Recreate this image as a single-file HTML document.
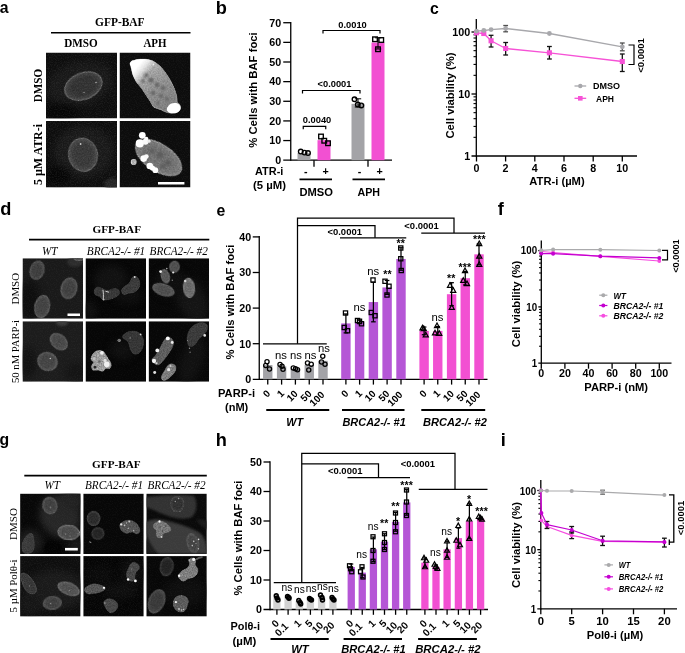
<!DOCTYPE html>
<html lang="en"><head><meta charset="utf-8"><title>Figure</title>
<style>
html,body{margin:0;padding:0;background:#fff;}
body{width:685px;height:653px;overflow:hidden;}
svg{display:block;}
</style></head><body>
<svg width="685" height="653" viewBox="0 0 685 653">
<rect x="0" y="0" width="685" height="653" fill="#ffffff"/>
<text x="-0.30" y="13.10" font-family='"Liberation Sans", Arial, sans-serif' font-size="15.8" font-weight="bold" font-style="normal" text-anchor="start" fill="#000">a</text>
<text x="215.80" y="13.75" font-family='"Liberation Sans", Arial, sans-serif' font-size="18.2" font-weight="bold" font-style="normal" text-anchor="start" fill="#000">b</text>
<text x="429.90" y="13.75" font-family='"Liberation Sans", Arial, sans-serif' font-size="15.8" font-weight="bold" font-style="normal" text-anchor="start" fill="#000">c</text>
<text x="0.20" y="215.40" font-family='"Liberation Sans", Arial, sans-serif' font-size="18.2" font-weight="bold" font-style="normal" text-anchor="start" fill="#000">d</text>
<text x="216.40" y="215.50" font-family='"Liberation Sans", Arial, sans-serif' font-size="15.8" font-weight="bold" font-style="normal" text-anchor="start" fill="#000">e</text>
<text x="497.70" y="215.20" font-family='"Liberation Sans", Arial, sans-serif' font-size="18.2" font-weight="bold" font-style="normal" text-anchor="start" fill="#000">f</text>
<text x="-0.50" y="444.50" font-family='"Liberation Sans", Arial, sans-serif' font-size="15.8" font-weight="bold" font-style="normal" text-anchor="start" fill="#000">g</text>
<text x="215.80" y="446.25" font-family='"Liberation Sans", Arial, sans-serif' font-size="18.2" font-weight="bold" font-style="normal" text-anchor="start" fill="#000">h</text>
<text x="500.80" y="446.25" font-family='"Liberation Sans", Arial, sans-serif' font-size="18.2" font-weight="bold" font-style="normal" text-anchor="start" fill="#000">i</text>
<line x1="290.75" y1="22.00" x2="290.75" y2="160.85" stroke="#000" stroke-width="1.3" stroke-linecap="butt"/>
<line x1="283.25" y1="160.20" x2="392.00" y2="160.20" stroke="#000" stroke-width="1.3" stroke-linecap="butt"/>
<text x="281.25" y="164.00" font-family='"Liberation Sans", Arial, sans-serif' font-size="10.7" font-weight="bold" font-style="normal" text-anchor="end" fill="#000">0</text>
<line x1="283.25" y1="140.56" x2="290.75" y2="140.56" stroke="#000" stroke-width="1.3" stroke-linecap="butt"/>
<text x="281.25" y="144.36" font-family='"Liberation Sans", Arial, sans-serif' font-size="10.7" font-weight="bold" font-style="normal" text-anchor="end" fill="#000">10</text>
<line x1="283.25" y1="120.92" x2="290.75" y2="120.92" stroke="#000" stroke-width="1.3" stroke-linecap="butt"/>
<text x="281.25" y="124.72" font-family='"Liberation Sans", Arial, sans-serif' font-size="10.7" font-weight="bold" font-style="normal" text-anchor="end" fill="#000">20</text>
<line x1="283.25" y1="101.28" x2="290.75" y2="101.28" stroke="#000" stroke-width="1.3" stroke-linecap="butt"/>
<text x="281.25" y="105.08" font-family='"Liberation Sans", Arial, sans-serif' font-size="10.7" font-weight="bold" font-style="normal" text-anchor="end" fill="#000">30</text>
<line x1="283.25" y1="81.64" x2="290.75" y2="81.64" stroke="#000" stroke-width="1.3" stroke-linecap="butt"/>
<text x="281.25" y="85.44" font-family='"Liberation Sans", Arial, sans-serif' font-size="10.7" font-weight="bold" font-style="normal" text-anchor="end" fill="#000">40</text>
<line x1="283.25" y1="62.00" x2="290.75" y2="62.00" stroke="#000" stroke-width="1.3" stroke-linecap="butt"/>
<text x="281.25" y="65.80" font-family='"Liberation Sans", Arial, sans-serif' font-size="10.7" font-weight="bold" font-style="normal" text-anchor="end" fill="#000">50</text>
<line x1="283.25" y1="42.36" x2="290.75" y2="42.36" stroke="#000" stroke-width="1.3" stroke-linecap="butt"/>
<text x="281.25" y="46.16" font-family='"Liberation Sans", Arial, sans-serif' font-size="10.7" font-weight="bold" font-style="normal" text-anchor="end" fill="#000">60</text>
<line x1="283.25" y1="22.72" x2="290.75" y2="22.72" stroke="#000" stroke-width="1.3" stroke-linecap="butt"/>
<text x="281.25" y="26.52" font-family='"Liberation Sans", Arial, sans-serif' font-size="10.7" font-weight="bold" font-style="normal" text-anchor="end" fill="#000">70</text>
<text x="257.00" y="90.00" font-family='"Liberation Sans", Arial, sans-serif' font-size="11.2" font-weight="bold" font-style="normal" text-anchor="middle" fill="#000" transform="rotate(-90 257.00 90.00)" textLength="115.50" lengthAdjust="spacingAndGlyphs">% Cells with BAF foci</text>
<rect x="297.50" y="153.13" width="13.00" height="7.07" fill="#a3a3a7"/>
<rect x="317.50" y="140.17" width="13.00" height="20.03" fill="#f250d2"/>
<rect x="351.50" y="103.83" width="13.00" height="56.37" fill="#a3a3a7"/>
<rect x="371.50" y="42.56" width="13.00" height="117.64" fill="#f250d2"/>
<line x1="358.00" y1="98.80" x2="358.00" y2="107.00" stroke="#000" stroke-width="1.0" stroke-linecap="butt"/>
<line x1="354.80" y1="98.80" x2="361.20" y2="98.80" stroke="#000" stroke-width="1.0" stroke-linecap="butt"/>
<line x1="354.80" y1="107.00" x2="361.20" y2="107.00" stroke="#000" stroke-width="1.0" stroke-linecap="butt"/>
<line x1="378.00" y1="37.80" x2="378.00" y2="49.00" stroke="#000" stroke-width="1.0" stroke-linecap="butt"/>
<line x1="374.80" y1="37.80" x2="381.20" y2="37.80" stroke="#000" stroke-width="1.0" stroke-linecap="butt"/>
<line x1="374.80" y1="49.00" x2="381.20" y2="49.00" stroke="#000" stroke-width="1.0" stroke-linecap="butt"/>
<circle cx="300.75" cy="151.50" r="2.3" fill="none" stroke="#000" stroke-width="1.35"/>
<circle cx="304.50" cy="152.60" r="2.3" fill="none" stroke="#000" stroke-width="1.35"/>
<circle cx="308.00" cy="153.00" r="2.3" fill="none" stroke="#000" stroke-width="1.35"/>
<rect x="318.70" y="134.20" width="4.6" height="4.6" fill="none" stroke="#000" stroke-width="1.35"/>
<rect x="321.95" y="138.45" width="4.6" height="4.6" fill="none" stroke="#000" stroke-width="1.35"/>
<rect x="325.70" y="140.95" width="4.6" height="4.6" fill="none" stroke="#000" stroke-width="1.35"/>
<circle cx="354.50" cy="99.25" r="2.3" fill="none" stroke="#000" stroke-width="1.35"/>
<circle cx="357.80" cy="104.60" r="2.3" fill="none" stroke="#000" stroke-width="1.35"/>
<circle cx="361.30" cy="105.40" r="2.3" fill="none" stroke="#000" stroke-width="1.35"/>
<rect x="372.70" y="36.95" width="4.6" height="4.6" fill="none" stroke="#000" stroke-width="1.35"/>
<rect x="378.95" y="37.70" width="4.6" height="4.6" fill="none" stroke="#000" stroke-width="1.35"/>
<rect x="375.70" y="46.95" width="4.6" height="4.6" fill="none" stroke="#000" stroke-width="1.35"/>
<polyline points="323.00,33.50 323.00,30.50 380.00,30.50 380.00,33.50" fill="none" stroke="#000" stroke-width="1.2" stroke-linejoin="miter"/>
<text x="352.50" y="27.60" font-family='"Liberation Sans", Arial, sans-serif' font-size="9.3" font-weight="bold" font-style="normal" text-anchor="middle" fill="#000">0.0010</text>
<polyline points="302.50,93.50 302.50,90.50 360.00,90.50 360.00,93.50" fill="none" stroke="#000" stroke-width="1.2" stroke-linejoin="miter"/>
<text x="334.50" y="87.30" font-family='"Liberation Sans", Arial, sans-serif' font-size="9.3" font-weight="bold" font-style="normal" text-anchor="middle" fill="#000">&lt;0.0001</text>
<polyline points="303.25,129.30 303.25,126.30 325.75,126.30 325.75,129.30" fill="none" stroke="#000" stroke-width="1.2" stroke-linejoin="miter"/>
<text x="317.00" y="123.10" font-family='"Liberation Sans", Arial, sans-serif' font-size="9.3" font-weight="bold" font-style="normal" text-anchor="middle" fill="#000">0.0040</text>
<line x1="314.00" y1="160.20" x2="314.00" y2="166.80" stroke="#000" stroke-width="1.3" stroke-linecap="butt"/>
<line x1="368.00" y1="160.20" x2="368.00" y2="166.80" stroke="#000" stroke-width="1.3" stroke-linecap="butt"/>
<text x="283.30" y="175.00" font-family='"Liberation Sans", Arial, sans-serif' font-size="10.7" font-weight="bold" font-style="normal" text-anchor="end" fill="#000" textLength="28.30" lengthAdjust="spacingAndGlyphs">ATR-i</text>
<text x="286.00" y="189.20" font-family='"Liberation Sans", Arial, sans-serif' font-size="10.7" font-weight="bold" font-style="normal" text-anchor="end" fill="#000" textLength="33.00" lengthAdjust="spacingAndGlyphs">(5 µM)</text>
<text x="305.75" y="174.60" font-family='"Liberation Sans", Arial, sans-serif' font-size="10.7" font-weight="bold" font-style="normal" text-anchor="middle" fill="#000">-</text>
<text x="325.50" y="174.60" font-family='"Liberation Sans", Arial, sans-serif' font-size="10.7" font-weight="bold" font-style="normal" text-anchor="middle" fill="#000">+</text>
<text x="359.50" y="174.60" font-family='"Liberation Sans", Arial, sans-serif' font-size="10.7" font-weight="bold" font-style="normal" text-anchor="middle" fill="#000">-</text>
<text x="379.50" y="174.60" font-family='"Liberation Sans", Arial, sans-serif' font-size="10.7" font-weight="bold" font-style="normal" text-anchor="middle" fill="#000">+</text>
<line x1="299.50" y1="179.30" x2="332.00" y2="179.30" stroke="#000" stroke-width="1.7" stroke-linecap="butt"/>
<line x1="352.50" y1="179.30" x2="385.00" y2="179.30" stroke="#000" stroke-width="1.7" stroke-linecap="butt"/>
<text x="316.20" y="196.00" font-family='"Liberation Sans", Arial, sans-serif' font-size="11" font-weight="bold" font-style="normal" text-anchor="middle" fill="#000" textLength="33.50" lengthAdjust="spacingAndGlyphs">DMSO</text>
<text x="368.80" y="196.00" font-family='"Liberation Sans", Arial, sans-serif' font-size="11" font-weight="bold" font-style="normal" text-anchor="middle" fill="#000" textLength="22.50" lengthAdjust="spacingAndGlyphs">APH</text>
<line x1="476.30" y1="19.00" x2="476.30" y2="156.65" stroke="#000" stroke-width="1.3" stroke-linecap="butt"/>
<line x1="471.50" y1="156.00" x2="637.00" y2="156.00" stroke="#000" stroke-width="1.3" stroke-linecap="butt"/>
<line x1="471.50" y1="32.00" x2="476.30" y2="32.00" stroke="#000" stroke-width="1.3" stroke-linecap="butt"/>
<text x="470.30" y="35.89" font-family='"Liberation Sans", Arial, sans-serif' font-size="10.8" font-weight="bold" font-style="normal" text-anchor="end" fill="#000" textLength="18.00" lengthAdjust="spacingAndGlyphs">100</text>
<line x1="471.50" y1="94.00" x2="476.30" y2="94.00" stroke="#000" stroke-width="1.3" stroke-linecap="butt"/>
<text x="470.30" y="97.89" font-family='"Liberation Sans", Arial, sans-serif' font-size="10.8" font-weight="bold" font-style="normal" text-anchor="end" fill="#000" textLength="12.00" lengthAdjust="spacingAndGlyphs">10</text>
<text x="470.30" y="159.89" font-family='"Liberation Sans", Arial, sans-serif' font-size="10.8" font-weight="bold" font-style="normal" text-anchor="end" fill="#000" textLength="6.00" lengthAdjust="spacingAndGlyphs">1</text>
<line x1="473.50" y1="75.34" x2="476.30" y2="75.34" stroke="#000" stroke-width="1.1" stroke-linecap="butt"/>
<line x1="473.50" y1="64.42" x2="476.30" y2="64.42" stroke="#000" stroke-width="1.1" stroke-linecap="butt"/>
<line x1="473.50" y1="56.67" x2="476.30" y2="56.67" stroke="#000" stroke-width="1.1" stroke-linecap="butt"/>
<line x1="473.50" y1="50.66" x2="476.30" y2="50.66" stroke="#000" stroke-width="1.1" stroke-linecap="butt"/>
<line x1="473.50" y1="45.75" x2="476.30" y2="45.75" stroke="#000" stroke-width="1.1" stroke-linecap="butt"/>
<line x1="473.50" y1="41.60" x2="476.30" y2="41.60" stroke="#000" stroke-width="1.1" stroke-linecap="butt"/>
<line x1="473.50" y1="38.01" x2="476.30" y2="38.01" stroke="#000" stroke-width="1.1" stroke-linecap="butt"/>
<line x1="473.50" y1="34.84" x2="476.30" y2="34.84" stroke="#000" stroke-width="1.1" stroke-linecap="butt"/>
<line x1="473.50" y1="137.34" x2="476.30" y2="137.34" stroke="#000" stroke-width="1.1" stroke-linecap="butt"/>
<line x1="473.50" y1="126.42" x2="476.30" y2="126.42" stroke="#000" stroke-width="1.1" stroke-linecap="butt"/>
<line x1="473.50" y1="118.67" x2="476.30" y2="118.67" stroke="#000" stroke-width="1.1" stroke-linecap="butt"/>
<line x1="473.50" y1="112.66" x2="476.30" y2="112.66" stroke="#000" stroke-width="1.1" stroke-linecap="butt"/>
<line x1="473.50" y1="107.75" x2="476.30" y2="107.75" stroke="#000" stroke-width="1.1" stroke-linecap="butt"/>
<line x1="473.50" y1="103.60" x2="476.30" y2="103.60" stroke="#000" stroke-width="1.1" stroke-linecap="butt"/>
<line x1="473.50" y1="100.01" x2="476.30" y2="100.01" stroke="#000" stroke-width="1.1" stroke-linecap="butt"/>
<line x1="473.50" y1="96.84" x2="476.30" y2="96.84" stroke="#000" stroke-width="1.1" stroke-linecap="butt"/>
<line x1="476.50" y1="156.00" x2="476.50" y2="161.50" stroke="#000" stroke-width="1.3" stroke-linecap="butt"/>
<text x="476.50" y="172.00" font-family='"Liberation Sans", Arial, sans-serif' font-size="10.7" font-weight="bold" font-style="normal" text-anchor="middle" fill="#000">0</text>
<line x1="505.60" y1="156.00" x2="505.60" y2="161.50" stroke="#000" stroke-width="1.3" stroke-linecap="butt"/>
<text x="505.60" y="172.00" font-family='"Liberation Sans", Arial, sans-serif' font-size="10.7" font-weight="bold" font-style="normal" text-anchor="middle" fill="#000">2</text>
<line x1="534.80" y1="156.00" x2="534.80" y2="161.50" stroke="#000" stroke-width="1.3" stroke-linecap="butt"/>
<text x="534.80" y="172.00" font-family='"Liberation Sans", Arial, sans-serif' font-size="10.7" font-weight="bold" font-style="normal" text-anchor="middle" fill="#000">4</text>
<line x1="564.00" y1="156.00" x2="564.00" y2="161.50" stroke="#000" stroke-width="1.3" stroke-linecap="butt"/>
<text x="564.00" y="172.00" font-family='"Liberation Sans", Arial, sans-serif' font-size="10.7" font-weight="bold" font-style="normal" text-anchor="middle" fill="#000">6</text>
<line x1="593.20" y1="156.00" x2="593.20" y2="161.50" stroke="#000" stroke-width="1.3" stroke-linecap="butt"/>
<text x="593.20" y="172.00" font-family='"Liberation Sans", Arial, sans-serif' font-size="10.7" font-weight="bold" font-style="normal" text-anchor="middle" fill="#000">8</text>
<line x1="622.30" y1="156.00" x2="622.30" y2="161.50" stroke="#000" stroke-width="1.3" stroke-linecap="butt"/>
<text x="622.30" y="172.00" font-family='"Liberation Sans", Arial, sans-serif' font-size="10.7" font-weight="bold" font-style="normal" text-anchor="middle" fill="#000">10</text>
<text x="557.00" y="185.00" font-family='"Liberation Sans", Arial, sans-serif' font-size="11.2" font-weight="bold" font-style="normal" text-anchor="middle" fill="#000">ATR-i (µM)</text>
<text x="454.00" y="95.50" font-family='"Liberation Sans", Arial, sans-serif' font-size="11.2" font-weight="bold" font-style="normal" text-anchor="middle" fill="#000" transform="rotate(-90 454.00 95.50)" textLength="86.00" lengthAdjust="spacingAndGlyphs">Cell viability (%)</text>
<line x1="491.08" y1="35.30" x2="491.08" y2="47.00" stroke="#111" stroke-width="1.3" stroke-linecap="butt"/>
<line x1="488.68" y1="35.30" x2="493.48" y2="35.30" stroke="#111" stroke-width="1.3" stroke-linecap="butt"/>
<line x1="488.68" y1="47.00" x2="493.48" y2="47.00" stroke="#111" stroke-width="1.3" stroke-linecap="butt"/>
<line x1="505.66" y1="42.50" x2="505.66" y2="55.00" stroke="#111" stroke-width="1.3" stroke-linecap="butt"/>
<line x1="503.26" y1="42.50" x2="508.06" y2="42.50" stroke="#111" stroke-width="1.3" stroke-linecap="butt"/>
<line x1="503.26" y1="55.00" x2="508.06" y2="55.00" stroke="#111" stroke-width="1.3" stroke-linecap="butt"/>
<line x1="549.40" y1="46.50" x2="549.40" y2="59.00" stroke="#111" stroke-width="1.3" stroke-linecap="butt"/>
<line x1="547.00" y1="46.50" x2="551.80" y2="46.50" stroke="#111" stroke-width="1.3" stroke-linecap="butt"/>
<line x1="547.00" y1="59.00" x2="551.80" y2="59.00" stroke="#111" stroke-width="1.3" stroke-linecap="butt"/>
<line x1="622.30" y1="54.00" x2="622.30" y2="71.50" stroke="#111" stroke-width="1.3" stroke-linecap="butt"/>
<line x1="619.90" y1="54.00" x2="624.70" y2="54.00" stroke="#111" stroke-width="1.3" stroke-linecap="butt"/>
<line x1="619.90" y1="71.50" x2="624.70" y2="71.50" stroke="#111" stroke-width="1.3" stroke-linecap="butt"/>
<polyline points="476.50,32.80 483.79,33.50 491.08,40.80 505.66,48.50 549.40,52.80 622.30,61.50" fill="none" stroke="#f652d6" stroke-width="1.3" stroke-linejoin="round"/>
<rect x="473.95" y="30.25" width="5.1" height="5.1" fill="#f652d6"/>
<rect x="481.24" y="30.95" width="5.1" height="5.1" fill="#f652d6"/>
<rect x="488.53" y="38.25" width="5.1" height="5.1" fill="#f652d6"/>
<rect x="503.11" y="45.95" width="5.1" height="5.1" fill="#f652d6"/>
<rect x="546.85" y="50.25" width="5.1" height="5.1" fill="#f652d6"/>
<rect x="619.75" y="58.95" width="5.1" height="5.1" fill="#f652d6"/>
<line x1="505.66" y1="25.50" x2="505.66" y2="31.80" stroke="#505050" stroke-width="1.3" stroke-linecap="butt"/>
<line x1="503.26" y1="25.50" x2="508.06" y2="25.50" stroke="#505050" stroke-width="1.3" stroke-linecap="butt"/>
<line x1="503.26" y1="31.80" x2="508.06" y2="31.80" stroke="#505050" stroke-width="1.3" stroke-linecap="butt"/>
<line x1="622.30" y1="43.00" x2="622.30" y2="50.80" stroke="#505050" stroke-width="1.3" stroke-linecap="butt"/>
<line x1="619.90" y1="43.00" x2="624.70" y2="43.00" stroke="#505050" stroke-width="1.3" stroke-linecap="butt"/>
<line x1="619.90" y1="50.80" x2="624.70" y2="50.80" stroke="#505050" stroke-width="1.3" stroke-linecap="butt"/>
<polyline points="476.50,31.20 483.79,30.50 491.08,29.60 505.66,28.50 549.40,33.50 622.30,46.80" fill="none" stroke="#a8a8ac" stroke-width="1.3" stroke-linejoin="round"/>
<circle cx="476.50" cy="31.20" r="2.4" fill="#a8a8ac"/>
<circle cx="483.79" cy="30.50" r="2.4" fill="#a8a8ac"/>
<circle cx="491.08" cy="29.60" r="2.4" fill="#a8a8ac"/>
<circle cx="505.66" cy="28.50" r="2.4" fill="#a8a8ac"/>
<circle cx="549.40" cy="33.50" r="2.4" fill="#a8a8ac"/>
<circle cx="622.30" cy="46.80" r="2.4" fill="#a8a8ac"/>
<polyline points="628.50,45.00 634.00,45.00 634.00,64.50 628.50,64.50" fill="none" stroke="#000" stroke-width="1.2" stroke-linejoin="miter"/>
<text x="643.60" y="55.50" font-family='"Liberation Sans", Arial, sans-serif' font-size="9.3" font-weight="bold" font-style="normal" text-anchor="middle" fill="#000" transform="rotate(-90 643.60 55.50)" textLength="34.50" lengthAdjust="spacingAndGlyphs">&lt;0.0001</text>
<line x1="574.50" y1="86.00" x2="586.20" y2="86.00" stroke="#a8a8ac" stroke-width="1.3" stroke-linecap="butt"/>
<circle cx="580.3" cy="86" r="2.2" fill="#a8a8ac"/>
<line x1="574.50" y1="98.30" x2="586.20" y2="98.30" stroke="#f652d6" stroke-width="1.3" stroke-linecap="butt"/>
<rect x="578.00" y="96.00" width="4.60" height="4.60" fill="#f652d6"/>
<text x="593.00" y="89.30" font-family='"Liberation Sans", Arial, sans-serif' font-size="8.8" font-weight="bold" font-style="normal" text-anchor="start" fill="#000" textLength="27.00" lengthAdjust="spacingAndGlyphs">DMSO</text>
<text x="596.00" y="101.50" font-family='"Liberation Sans", Arial, sans-serif' font-size="8.8" font-weight="bold" font-style="normal" text-anchor="start" fill="#000" textLength="18.00" lengthAdjust="spacingAndGlyphs">APH</text>
<line x1="541.30" y1="240.60" x2="541.30" y2="363.85" stroke="#000" stroke-width="1.3" stroke-linecap="butt"/>
<line x1="538.30" y1="363.20" x2="671.50" y2="363.20" stroke="#000" stroke-width="1.3" stroke-linecap="butt"/>
<line x1="538.30" y1="250.60" x2="541.30" y2="250.60" stroke="#000" stroke-width="1.3" stroke-linecap="butt"/>
<text x="537.10" y="254.45" font-family='"Liberation Sans", Arial, sans-serif' font-size="10.7" font-weight="bold" font-style="normal" text-anchor="end" fill="#000" textLength="16.30" lengthAdjust="spacingAndGlyphs">100</text>
<line x1="538.30" y1="306.90" x2="541.30" y2="306.90" stroke="#000" stroke-width="1.3" stroke-linecap="butt"/>
<text x="537.10" y="310.75" font-family='"Liberation Sans", Arial, sans-serif' font-size="10.7" font-weight="bold" font-style="normal" text-anchor="end" fill="#000" textLength="10.87" lengthAdjust="spacingAndGlyphs">10</text>
<text x="537.10" y="367.05" font-family='"Liberation Sans", Arial, sans-serif' font-size="10.7" font-weight="bold" font-style="normal" text-anchor="end" fill="#000" textLength="5.43" lengthAdjust="spacingAndGlyphs">1</text>
<line x1="539.10" y1="289.95" x2="541.30" y2="289.95" stroke="#000" stroke-width="1.1" stroke-linecap="butt"/>
<line x1="539.10" y1="280.04" x2="541.30" y2="280.04" stroke="#000" stroke-width="1.1" stroke-linecap="butt"/>
<line x1="539.10" y1="273.00" x2="541.30" y2="273.00" stroke="#000" stroke-width="1.1" stroke-linecap="butt"/>
<line x1="539.10" y1="267.55" x2="541.30" y2="267.55" stroke="#000" stroke-width="1.1" stroke-linecap="butt"/>
<line x1="539.10" y1="263.09" x2="541.30" y2="263.09" stroke="#000" stroke-width="1.1" stroke-linecap="butt"/>
<line x1="539.10" y1="259.32" x2="541.30" y2="259.32" stroke="#000" stroke-width="1.1" stroke-linecap="butt"/>
<line x1="539.10" y1="256.06" x2="541.30" y2="256.06" stroke="#000" stroke-width="1.1" stroke-linecap="butt"/>
<line x1="539.10" y1="253.18" x2="541.30" y2="253.18" stroke="#000" stroke-width="1.1" stroke-linecap="butt"/>
<line x1="539.10" y1="346.25" x2="541.30" y2="346.25" stroke="#000" stroke-width="1.1" stroke-linecap="butt"/>
<line x1="539.10" y1="336.34" x2="541.30" y2="336.34" stroke="#000" stroke-width="1.1" stroke-linecap="butt"/>
<line x1="539.10" y1="329.30" x2="541.30" y2="329.30" stroke="#000" stroke-width="1.1" stroke-linecap="butt"/>
<line x1="539.10" y1="323.85" x2="541.30" y2="323.85" stroke="#000" stroke-width="1.1" stroke-linecap="butt"/>
<line x1="539.10" y1="319.39" x2="541.30" y2="319.39" stroke="#000" stroke-width="1.1" stroke-linecap="butt"/>
<line x1="539.10" y1="315.62" x2="541.30" y2="315.62" stroke="#000" stroke-width="1.1" stroke-linecap="butt"/>
<line x1="539.10" y1="312.36" x2="541.30" y2="312.36" stroke="#000" stroke-width="1.1" stroke-linecap="butt"/>
<line x1="539.10" y1="309.48" x2="541.30" y2="309.48" stroke="#000" stroke-width="1.1" stroke-linecap="butt"/>
<line x1="541.30" y1="363.20" x2="541.30" y2="368.70" stroke="#000" stroke-width="1.3" stroke-linecap="butt"/>
<text x="541.30" y="377.20" font-family='"Liberation Sans", Arial, sans-serif' font-size="10.7" font-weight="bold" font-style="normal" text-anchor="middle" fill="#000">0</text>
<line x1="564.90" y1="363.20" x2="564.90" y2="368.70" stroke="#000" stroke-width="1.3" stroke-linecap="butt"/>
<text x="564.90" y="377.20" font-family='"Liberation Sans", Arial, sans-serif' font-size="10.7" font-weight="bold" font-style="normal" text-anchor="middle" fill="#000">20</text>
<line x1="588.50" y1="363.20" x2="588.50" y2="368.70" stroke="#000" stroke-width="1.3" stroke-linecap="butt"/>
<text x="588.50" y="377.20" font-family='"Liberation Sans", Arial, sans-serif' font-size="10.7" font-weight="bold" font-style="normal" text-anchor="middle" fill="#000">40</text>
<line x1="612.10" y1="363.20" x2="612.10" y2="368.70" stroke="#000" stroke-width="1.3" stroke-linecap="butt"/>
<text x="612.10" y="377.20" font-family='"Liberation Sans", Arial, sans-serif' font-size="10.7" font-weight="bold" font-style="normal" text-anchor="middle" fill="#000">60</text>
<line x1="635.70" y1="363.20" x2="635.70" y2="368.70" stroke="#000" stroke-width="1.3" stroke-linecap="butt"/>
<text x="635.70" y="377.20" font-family='"Liberation Sans", Arial, sans-serif' font-size="10.7" font-weight="bold" font-style="normal" text-anchor="middle" fill="#000">80</text>
<line x1="659.30" y1="363.20" x2="659.30" y2="368.70" stroke="#000" stroke-width="1.3" stroke-linecap="butt"/>
<text x="659.30" y="377.20" font-family='"Liberation Sans", Arial, sans-serif' font-size="10.7" font-weight="bold" font-style="normal" text-anchor="middle" fill="#000">100</text>
<text x="616.20" y="391.20" font-family='"Liberation Sans", Arial, sans-serif' font-size="11.2" font-weight="bold" font-style="normal" text-anchor="middle" fill="#000">PARP-i (nM)</text>
<text x="520.00" y="304.00" font-family='"Liberation Sans", Arial, sans-serif' font-size="11.2" font-weight="bold" font-style="normal" text-anchor="middle" fill="#000" transform="rotate(-90 520.00 304.00)" textLength="86.30" lengthAdjust="spacingAndGlyphs">Cell viability (%)</text>
<polyline points="541.30,251.50 553.10,252.50 600.30,256.40 659.30,261.00" fill="none" stroke="#f64ee0" stroke-width="1.2" stroke-linejoin="round"/>
<circle cx="541.30" cy="251.50" r="1.9" fill="#f64ee0"/>
<circle cx="553.10" cy="252.50" r="1.9" fill="#f64ee0"/>
<circle cx="600.30" cy="256.40" r="1.9" fill="#f64ee0"/>
<circle cx="659.30" cy="261.00" r="1.9" fill="#f64ee0"/>
<polyline points="541.30,253.60 553.10,253.70 600.30,256.20 659.30,257.90" fill="none" stroke="#c400d0" stroke-width="1.2" stroke-linejoin="round"/>
<circle cx="541.30" cy="253.60" r="2.0" fill="#c400d0"/>
<circle cx="553.10" cy="253.70" r="2.0" fill="#c400d0"/>
<circle cx="600.30" cy="256.20" r="2.0" fill="#c400d0"/>
<circle cx="659.30" cy="257.90" r="2.0" fill="#c400d0"/>
<polyline points="541.30,250.30 553.10,249.60 600.30,249.70 659.30,250.50" fill="none" stroke="#aaaaac" stroke-width="1.2" stroke-linejoin="round"/>
<circle cx="541.30" cy="250.30" r="2.0" fill="#aaaaac"/>
<circle cx="553.10" cy="249.60" r="2.0" fill="#aaaaac"/>
<circle cx="600.30" cy="249.70" r="2.0" fill="#aaaaac"/>
<circle cx="659.30" cy="250.50" r="2.0" fill="#aaaaac"/>
<polyline points="662.00,250.40 667.50,250.40 667.50,259.80 662.00,259.80" fill="none" stroke="#000" stroke-width="1.2" stroke-linejoin="miter"/>
<text x="678.80" y="256.00" font-family='"Liberation Sans", Arial, sans-serif' font-size="9.3" font-weight="bold" font-style="normal" text-anchor="middle" fill="#000" transform="rotate(-90 678.80 256.00)" textLength="33.50" lengthAdjust="spacingAndGlyphs">&lt;0.0001</text>
<line x1="599.20" y1="295.20" x2="607.40" y2="295.20" stroke="#aaaaac" stroke-width="1.2" stroke-linecap="butt"/>
<circle cx="603.3" cy="295.2" r="2.0" fill="#aaaaac"/>
<text x="613.40" y="298.60" font-family='"Liberation Sans", Arial, sans-serif' font-size="9.8" font-weight="bold" font-style="italic" text-anchor="start" fill="#000" textLength="12.50" lengthAdjust="spacingAndGlyphs">WT</text>
<line x1="599.20" y1="305.50" x2="607.40" y2="305.50" stroke="#c400d0" stroke-width="1.2" stroke-linecap="butt"/>
<circle cx="603.3" cy="305.5" r="2.0" fill="#c400d0"/>
<text x="613.40" y="308.90" font-family='"Liberation Sans", Arial, sans-serif' font-size="9.8" font-weight="bold" font-style="italic" text-anchor="start" fill="#000" textLength="50.00" lengthAdjust="spacingAndGlyphs">BRCA2-/- #1</text>
<line x1="599.20" y1="315.80" x2="607.40" y2="315.80" stroke="#f64ee0" stroke-width="1.2" stroke-linecap="butt"/>
<circle cx="603.3" cy="315.8" r="2.0" fill="#f64ee0"/>
<text x="613.40" y="319.20" font-family='"Liberation Sans", Arial, sans-serif' font-size="9.8" font-weight="bold" font-style="italic" text-anchor="start" fill="#000" textLength="50.00" lengthAdjust="spacingAndGlyphs">BRCA2-/- #2</text>
<line x1="540.80" y1="480.00" x2="540.80" y2="609.45" stroke="#000" stroke-width="1.3" stroke-linecap="butt"/>
<line x1="537.30" y1="608.80" x2="677.00" y2="608.80" stroke="#000" stroke-width="1.3" stroke-linecap="butt"/>
<line x1="537.30" y1="490.50" x2="540.80" y2="490.50" stroke="#000" stroke-width="1.3" stroke-linecap="butt"/>
<text x="536.10" y="494.64" font-family='"Liberation Sans", Arial, sans-serif' font-size="11.5" font-weight="bold" font-style="normal" text-anchor="end" fill="#000" textLength="16.30" lengthAdjust="spacingAndGlyphs">100</text>
<line x1="537.30" y1="549.65" x2="540.80" y2="549.65" stroke="#000" stroke-width="1.3" stroke-linecap="butt"/>
<text x="536.10" y="553.79" font-family='"Liberation Sans", Arial, sans-serif' font-size="11.5" font-weight="bold" font-style="normal" text-anchor="end" fill="#000" textLength="10.87" lengthAdjust="spacingAndGlyphs">10</text>
<text x="536.10" y="612.94" font-family='"Liberation Sans", Arial, sans-serif' font-size="11.5" font-weight="bold" font-style="normal" text-anchor="end" fill="#000" textLength="5.43" lengthAdjust="spacingAndGlyphs">1</text>
<line x1="538.40" y1="531.84" x2="540.80" y2="531.84" stroke="#000" stroke-width="1.1" stroke-linecap="butt"/>
<line x1="538.40" y1="521.43" x2="540.80" y2="521.43" stroke="#000" stroke-width="1.1" stroke-linecap="butt"/>
<line x1="538.40" y1="514.04" x2="540.80" y2="514.04" stroke="#000" stroke-width="1.1" stroke-linecap="butt"/>
<line x1="538.40" y1="508.31" x2="540.80" y2="508.31" stroke="#000" stroke-width="1.1" stroke-linecap="butt"/>
<line x1="538.40" y1="503.62" x2="540.80" y2="503.62" stroke="#000" stroke-width="1.1" stroke-linecap="butt"/>
<line x1="538.40" y1="499.66" x2="540.80" y2="499.66" stroke="#000" stroke-width="1.1" stroke-linecap="butt"/>
<line x1="538.40" y1="496.23" x2="540.80" y2="496.23" stroke="#000" stroke-width="1.1" stroke-linecap="butt"/>
<line x1="538.40" y1="493.21" x2="540.80" y2="493.21" stroke="#000" stroke-width="1.1" stroke-linecap="butt"/>
<line x1="538.40" y1="590.99" x2="540.80" y2="590.99" stroke="#000" stroke-width="1.1" stroke-linecap="butt"/>
<line x1="538.40" y1="580.58" x2="540.80" y2="580.58" stroke="#000" stroke-width="1.1" stroke-linecap="butt"/>
<line x1="538.40" y1="573.19" x2="540.80" y2="573.19" stroke="#000" stroke-width="1.1" stroke-linecap="butt"/>
<line x1="538.40" y1="567.46" x2="540.80" y2="567.46" stroke="#000" stroke-width="1.1" stroke-linecap="butt"/>
<line x1="538.40" y1="562.77" x2="540.80" y2="562.77" stroke="#000" stroke-width="1.1" stroke-linecap="butt"/>
<line x1="538.40" y1="558.81" x2="540.80" y2="558.81" stroke="#000" stroke-width="1.1" stroke-linecap="butt"/>
<line x1="538.40" y1="555.38" x2="540.80" y2="555.38" stroke="#000" stroke-width="1.1" stroke-linecap="butt"/>
<line x1="538.40" y1="552.36" x2="540.80" y2="552.36" stroke="#000" stroke-width="1.1" stroke-linecap="butt"/>
<line x1="540.80" y1="608.80" x2="540.80" y2="614.30" stroke="#000" stroke-width="1.3" stroke-linecap="butt"/>
<text x="540.80" y="625.40" font-family='"Liberation Sans", Arial, sans-serif' font-size="11.3" font-weight="bold" font-style="normal" text-anchor="middle" fill="#000">0</text>
<line x1="571.70" y1="608.80" x2="571.70" y2="614.30" stroke="#000" stroke-width="1.3" stroke-linecap="butt"/>
<text x="571.70" y="625.40" font-family='"Liberation Sans", Arial, sans-serif' font-size="11.3" font-weight="bold" font-style="normal" text-anchor="middle" fill="#000">5</text>
<line x1="602.60" y1="608.80" x2="602.60" y2="614.30" stroke="#000" stroke-width="1.3" stroke-linecap="butt"/>
<text x="602.60" y="625.40" font-family='"Liberation Sans", Arial, sans-serif' font-size="11.3" font-weight="bold" font-style="normal" text-anchor="middle" fill="#000">10</text>
<line x1="633.50" y1="608.80" x2="633.50" y2="614.30" stroke="#000" stroke-width="1.3" stroke-linecap="butt"/>
<text x="633.50" y="625.40" font-family='"Liberation Sans", Arial, sans-serif' font-size="11.3" font-weight="bold" font-style="normal" text-anchor="middle" fill="#000">15</text>
<line x1="664.40" y1="608.80" x2="664.40" y2="614.30" stroke="#000" stroke-width="1.3" stroke-linecap="butt"/>
<text x="664.40" y="625.40" font-family='"Liberation Sans", Arial, sans-serif' font-size="11.3" font-weight="bold" font-style="normal" text-anchor="middle" fill="#000">20</text>
<text x="615.00" y="639.00" font-family='"Liberation Sans", Arial, sans-serif' font-size="11.2" font-weight="bold" font-style="normal" text-anchor="middle" fill="#000">Polθ-i (µM)</text>
<text x="519.50" y="545.00" font-family='"Liberation Sans", Arial, sans-serif' font-size="11.2" font-weight="bold" font-style="normal" text-anchor="middle" fill="#000" transform="rotate(-90 519.50 545.00)" textLength="86.00" lengthAdjust="spacingAndGlyphs">Cell viability (%)</text>
<line x1="571.70" y1="531.80" x2="571.70" y2="538.60" stroke="#111" stroke-width="1.3" stroke-linecap="butt"/>
<line x1="569.30" y1="531.80" x2="574.10" y2="531.80" stroke="#111" stroke-width="1.3" stroke-linecap="butt"/>
<line x1="569.30" y1="538.60" x2="574.10" y2="538.60" stroke="#111" stroke-width="1.3" stroke-linecap="butt"/>
<polyline points="540.80,490.50 541.42,520.30 546.98,526.50 571.70,535.40 602.60,541.40 664.40,542.20" fill="none" stroke="#f64ee0" stroke-width="1.2" stroke-linejoin="round"/>
<circle cx="540.80" cy="490.50" r="1.9" fill="#f64ee0"/>
<circle cx="541.42" cy="520.30" r="1.9" fill="#f64ee0"/>
<circle cx="546.98" cy="526.50" r="1.9" fill="#f64ee0"/>
<circle cx="571.70" cy="535.40" r="1.9" fill="#f64ee0"/>
<circle cx="602.60" cy="541.40" r="1.9" fill="#f64ee0"/>
<circle cx="664.40" cy="542.20" r="1.9" fill="#f64ee0"/>
<line x1="546.98" y1="521.50" x2="546.98" y2="528.50" stroke="#111" stroke-width="1.3" stroke-linecap="butt"/>
<line x1="544.58" y1="521.50" x2="549.38" y2="521.50" stroke="#111" stroke-width="1.3" stroke-linecap="butt"/>
<line x1="544.58" y1="528.50" x2="549.38" y2="528.50" stroke="#111" stroke-width="1.3" stroke-linecap="butt"/>
<line x1="571.70" y1="526.50" x2="571.70" y2="533.00" stroke="#111" stroke-width="1.3" stroke-linecap="butt"/>
<line x1="569.30" y1="526.50" x2="574.10" y2="526.50" stroke="#111" stroke-width="1.3" stroke-linecap="butt"/>
<line x1="569.30" y1="533.00" x2="574.10" y2="533.00" stroke="#111" stroke-width="1.3" stroke-linecap="butt"/>
<line x1="602.60" y1="536.20" x2="602.60" y2="545.50" stroke="#111" stroke-width="1.3" stroke-linecap="butt"/>
<line x1="600.20" y1="536.20" x2="605.00" y2="536.20" stroke="#111" stroke-width="1.3" stroke-linecap="butt"/>
<line x1="600.20" y1="545.50" x2="605.00" y2="545.50" stroke="#111" stroke-width="1.3" stroke-linecap="butt"/>
<line x1="664.40" y1="538.20" x2="664.40" y2="547.00" stroke="#111" stroke-width="1.3" stroke-linecap="butt"/>
<line x1="662.00" y1="538.20" x2="666.80" y2="538.20" stroke="#111" stroke-width="1.3" stroke-linecap="butt"/>
<line x1="662.00" y1="547.00" x2="666.80" y2="547.00" stroke="#111" stroke-width="1.3" stroke-linecap="butt"/>
<polyline points="540.80,490.50 541.42,513.00 546.98,524.60 571.70,530.00 602.60,540.80 664.40,541.90" fill="none" stroke="#c400d0" stroke-width="1.2" stroke-linejoin="round"/>
<circle cx="540.80" cy="490.50" r="2.0" fill="#c400d0"/>
<circle cx="541.42" cy="513.00" r="2.0" fill="#c400d0"/>
<circle cx="546.98" cy="524.60" r="2.0" fill="#c400d0"/>
<circle cx="571.70" cy="530.00" r="2.0" fill="#c400d0"/>
<circle cx="602.60" cy="540.80" r="2.0" fill="#c400d0"/>
<circle cx="664.40" cy="541.90" r="2.0" fill="#c400d0"/>
<line x1="602.60" y1="490.20" x2="602.60" y2="494.20" stroke="#6a6a6a" stroke-width="1.3" stroke-linecap="butt"/>
<line x1="600.20" y1="490.20" x2="605.00" y2="490.20" stroke="#6a6a6a" stroke-width="1.3" stroke-linecap="butt"/>
<line x1="600.20" y1="494.20" x2="605.00" y2="494.20" stroke="#6a6a6a" stroke-width="1.3" stroke-linecap="butt"/>
<polyline points="540.80,490.50 546.98,490.80 571.70,491.00 602.60,492.10 664.40,495.10" fill="none" stroke="#aaaaac" stroke-width="1.2" stroke-linejoin="round"/>
<circle cx="540.80" cy="490.50" r="2.0" fill="#aaaaac"/>
<circle cx="546.98" cy="490.80" r="2.0" fill="#aaaaac"/>
<circle cx="571.70" cy="491.00" r="2.0" fill="#aaaaac"/>
<circle cx="602.60" cy="492.10" r="2.0" fill="#aaaaac"/>
<circle cx="664.40" cy="495.10" r="2.0" fill="#aaaaac"/>
<polyline points="669.00,494.90 673.80,494.90 673.80,542.20 669.00,542.20" fill="none" stroke="#000" stroke-width="1.3" stroke-linejoin="miter"/>
<line x1="669.30" y1="539.60" x2="669.30" y2="544.90" stroke="#000" stroke-width="1.3" stroke-linecap="butt"/>
<text x="683.70" y="518.00" font-family='"Liberation Sans", Arial, sans-serif' font-size="9.3" font-weight="bold" font-style="normal" text-anchor="middle" fill="#000" transform="rotate(-90 683.70 518.00)" textLength="34.30" lengthAdjust="spacingAndGlyphs">&lt;0.0001</text>
<line x1="604.40" y1="564.90" x2="613.00" y2="564.90" stroke="#aaaaac" stroke-width="1.2" stroke-linecap="butt"/>
<circle cx="608.7" cy="564.9" r="2.0" fill="#aaaaac"/>
<text x="618.80" y="568.10" font-family='"Liberation Sans", Arial, sans-serif' font-size="9.2" font-weight="bold" font-style="italic" text-anchor="start" fill="#000" textLength="11.50" lengthAdjust="spacingAndGlyphs">WT</text>
<line x1="604.40" y1="576.80" x2="613.00" y2="576.80" stroke="#c400d0" stroke-width="1.2" stroke-linecap="butt"/>
<circle cx="608.7" cy="576.8" r="2.0" fill="#c400d0"/>
<text x="618.80" y="580.00" font-family='"Liberation Sans", Arial, sans-serif' font-size="9.2" font-weight="bold" font-style="italic" text-anchor="start" fill="#000" textLength="44.50" lengthAdjust="spacingAndGlyphs">BRCA2-/- #1</text>
<line x1="604.40" y1="588.90" x2="613.00" y2="588.90" stroke="#f64ee0" stroke-width="1.2" stroke-linecap="butt"/>
<circle cx="608.7" cy="588.9" r="2.0" fill="#f64ee0"/>
<text x="618.80" y="592.10" font-family='"Liberation Sans", Arial, sans-serif' font-size="9.2" font-weight="bold" font-style="italic" text-anchor="start" fill="#000" textLength="44.50" lengthAdjust="spacingAndGlyphs">BRCA2-/- #2</text>
<line x1="259.25" y1="236.10" x2="259.25" y2="379.95" stroke="#000" stroke-width="1.3" stroke-linecap="butt"/>
<line x1="252.75" y1="379.30" x2="487.50" y2="379.30" stroke="#000" stroke-width="1.3" stroke-linecap="butt"/>
<text x="251.25" y="383.10" font-family='"Liberation Sans", Arial, sans-serif' font-size="10.7" font-weight="bold" font-style="normal" text-anchor="end" fill="#000">0</text>
<line x1="252.75" y1="343.70" x2="259.25" y2="343.70" stroke="#000" stroke-width="1.3" stroke-linecap="butt"/>
<text x="251.25" y="347.50" font-family='"Liberation Sans", Arial, sans-serif' font-size="10.7" font-weight="bold" font-style="normal" text-anchor="end" fill="#000">10</text>
<line x1="252.75" y1="308.10" x2="259.25" y2="308.10" stroke="#000" stroke-width="1.3" stroke-linecap="butt"/>
<text x="251.25" y="311.90" font-family='"Liberation Sans", Arial, sans-serif' font-size="10.7" font-weight="bold" font-style="normal" text-anchor="end" fill="#000">20</text>
<line x1="252.75" y1="272.50" x2="259.25" y2="272.50" stroke="#000" stroke-width="1.3" stroke-linecap="butt"/>
<text x="251.25" y="276.30" font-family='"Liberation Sans", Arial, sans-serif' font-size="10.7" font-weight="bold" font-style="normal" text-anchor="end" fill="#000">30</text>
<line x1="252.75" y1="236.90" x2="259.25" y2="236.90" stroke="#000" stroke-width="1.3" stroke-linecap="butt"/>
<text x="251.25" y="240.70" font-family='"Liberation Sans", Arial, sans-serif' font-size="10.7" font-weight="bold" font-style="normal" text-anchor="end" fill="#000">40</text>
<text x="234.00" y="302.00" font-family='"Liberation Sans", Arial, sans-serif' font-size="11.2" font-weight="bold" font-style="normal" text-anchor="middle" fill="#000" transform="rotate(-90 234.00 302.00)" textLength="115.00" lengthAdjust="spacingAndGlyphs">% Cells with BAF foci</text>
<rect x="263.05" y="365.06" width="9.40" height="14.24" fill="#a3a3a7"/>
<rect x="276.90" y="366.31" width="9.40" height="12.99" fill="#a3a3a7"/>
<rect x="290.70" y="368.98" width="9.40" height="10.32" fill="#a3a3a7"/>
<rect x="304.55" y="365.06" width="9.40" height="14.24" fill="#a3a3a7"/>
<rect x="318.30" y="360.79" width="9.40" height="18.51" fill="#a3a3a7"/>
<rect x="341.20" y="323.41" width="9.40" height="55.89" fill="#b556d6"/>
<rect x="354.90" y="321.98" width="9.40" height="57.32" fill="#b556d6"/>
<rect x="368.70" y="302.05" width="9.40" height="77.25" fill="#b556d6"/>
<rect x="382.40" y="287.45" width="9.40" height="91.85" fill="#b556d6"/>
<rect x="396.30" y="258.97" width="9.40" height="120.33" fill="#b556d6"/>
<rect x="419.40" y="330.88" width="9.40" height="48.42" fill="#f250d2"/>
<rect x="433.05" y="330.88" width="9.40" height="48.42" fill="#f250d2"/>
<rect x="446.90" y="294.22" width="9.40" height="85.08" fill="#f250d2"/>
<rect x="460.55" y="278.20" width="9.40" height="101.10" fill="#f250d2"/>
<rect x="474.30" y="254.34" width="9.40" height="124.96" fill="#f250d2"/>
<circle cx="267.00" cy="361.75" r="2.1" fill="none" stroke="#000" stroke-width="1.3"/>
<circle cx="265.75" cy="365.50" r="2.1" fill="none" stroke="#000" stroke-width="1.3"/>
<circle cx="269.50" cy="369.00" r="2.1" fill="none" stroke="#000" stroke-width="1.3"/>
<circle cx="280.00" cy="364.50" r="2.1" fill="none" stroke="#000" stroke-width="1.3"/>
<circle cx="282.00" cy="366.25" r="2.1" fill="none" stroke="#000" stroke-width="1.3"/>
<circle cx="283.00" cy="369.25" r="2.1" fill="none" stroke="#000" stroke-width="1.3"/>
<circle cx="293.25" cy="368.00" r="2.1" fill="none" stroke="#000" stroke-width="1.3"/>
<circle cx="295.50" cy="368.75" r="2.1" fill="none" stroke="#000" stroke-width="1.3"/>
<circle cx="297.50" cy="369.75" r="2.1" fill="none" stroke="#000" stroke-width="1.3"/>
<circle cx="307.50" cy="363.00" r="2.1" fill="none" stroke="#000" stroke-width="1.3"/>
<circle cx="311.25" cy="364.25" r="2.1" fill="none" stroke="#000" stroke-width="1.3"/>
<circle cx="308.75" cy="370.00" r="2.1" fill="none" stroke="#000" stroke-width="1.3"/>
<circle cx="322.75" cy="356.25" r="2.1" fill="none" stroke="#000" stroke-width="1.3"/>
<circle cx="321.50" cy="362.00" r="2.1" fill="none" stroke="#000" stroke-width="1.3"/>
<circle cx="325.00" cy="364.25" r="2.1" fill="none" stroke="#000" stroke-width="1.3"/>
<line x1="345.90" y1="313.96" x2="345.90" y2="332.86" stroke="#000" stroke-width="1.25" stroke-linecap="butt"/>
<line x1="343.60" y1="313.96" x2="348.20" y2="313.96" stroke="#000" stroke-width="1.25" stroke-linecap="butt"/>
<line x1="343.60" y1="332.86" x2="348.20" y2="332.86" stroke="#000" stroke-width="1.25" stroke-linecap="butt"/>
<rect x="343.40" y="310.90" width="4.2" height="4.2" fill="none" stroke="#000" stroke-width="1.25"/>
<rect x="342.15" y="325.40" width="4.2" height="4.2" fill="none" stroke="#000" stroke-width="1.25"/>
<rect x="345.40" y="328.65" width="4.2" height="4.2" fill="none" stroke="#000" stroke-width="1.25"/>
<line x1="359.60" y1="320.28" x2="359.60" y2="323.69" stroke="#000" stroke-width="1.25" stroke-linecap="butt"/>
<line x1="357.30" y1="320.28" x2="361.90" y2="320.28" stroke="#000" stroke-width="1.25" stroke-linecap="butt"/>
<line x1="357.30" y1="323.69" x2="361.90" y2="323.69" stroke="#000" stroke-width="1.25" stroke-linecap="butt"/>
<rect x="355.40" y="318.40" width="4.2" height="4.2" fill="none" stroke="#000" stroke-width="1.25"/>
<rect x="357.40" y="319.15" width="4.2" height="4.2" fill="none" stroke="#000" stroke-width="1.25"/>
<rect x="359.40" y="321.65" width="4.2" height="4.2" fill="none" stroke="#000" stroke-width="1.25"/>
<line x1="373.40" y1="282.28" x2="373.40" y2="321.82" stroke="#000" stroke-width="1.25" stroke-linecap="butt"/>
<line x1="371.10" y1="282.28" x2="375.70" y2="282.28" stroke="#000" stroke-width="1.25" stroke-linecap="butt"/>
<line x1="371.10" y1="321.82" x2="375.70" y2="321.82" stroke="#000" stroke-width="1.25" stroke-linecap="butt"/>
<rect x="370.90" y="277.90" width="4.2" height="4.2" fill="none" stroke="#000" stroke-width="1.25"/>
<rect x="369.15" y="310.40" width="4.2" height="4.2" fill="none" stroke="#000" stroke-width="1.25"/>
<rect x="372.90" y="313.65" width="4.2" height="4.2" fill="none" stroke="#000" stroke-width="1.25"/>
<line x1="387.10" y1="280.49" x2="387.10" y2="294.41" stroke="#000" stroke-width="1.25" stroke-linecap="butt"/>
<line x1="384.80" y1="280.49" x2="389.40" y2="280.49" stroke="#000" stroke-width="1.25" stroke-linecap="butt"/>
<line x1="384.80" y1="294.41" x2="389.40" y2="294.41" stroke="#000" stroke-width="1.25" stroke-linecap="butt"/>
<rect x="382.90" y="279.15" width="4.2" height="4.2" fill="none" stroke="#000" stroke-width="1.25"/>
<rect x="386.90" y="284.15" width="4.2" height="4.2" fill="none" stroke="#000" stroke-width="1.25"/>
<rect x="384.90" y="292.90" width="4.2" height="4.2" fill="none" stroke="#000" stroke-width="1.25"/>
<line x1="401.00" y1="247.72" x2="401.00" y2="270.23" stroke="#000" stroke-width="1.25" stroke-linecap="butt"/>
<line x1="398.70" y1="247.72" x2="403.30" y2="247.72" stroke="#000" stroke-width="1.25" stroke-linecap="butt"/>
<line x1="398.70" y1="270.23" x2="403.30" y2="270.23" stroke="#000" stroke-width="1.25" stroke-linecap="butt"/>
<rect x="398.65" y="245.90" width="4.2" height="4.2" fill="none" stroke="#000" stroke-width="1.25"/>
<rect x="398.65" y="256.65" width="4.2" height="4.2" fill="none" stroke="#000" stroke-width="1.25"/>
<rect x="399.15" y="268.40" width="4.2" height="4.2" fill="none" stroke="#000" stroke-width="1.25"/>
<line x1="424.10" y1="327.04" x2="424.10" y2="334.73" stroke="#000" stroke-width="1.25" stroke-linecap="butt"/>
<line x1="421.80" y1="327.04" x2="426.40" y2="327.04" stroke="#000" stroke-width="1.25" stroke-linecap="butt"/>
<line x1="421.80" y1="334.73" x2="426.40" y2="334.73" stroke="#000" stroke-width="1.25" stroke-linecap="butt"/>
<polygon points="422.50,325.25 419.95,329.84 425.05,329.84" fill="none" stroke="#000" stroke-width="1.2" stroke-linejoin="miter"/>
<polygon points="423.75,326.00 421.20,330.59 426.30,330.59" fill="none" stroke="#000" stroke-width="1.2" stroke-linejoin="miter"/>
<polygon points="425.75,332.25 423.20,336.84 428.30,336.84" fill="none" stroke="#000" stroke-width="1.2" stroke-linejoin="miter"/>
<line x1="437.75" y1="326.55" x2="437.75" y2="335.22" stroke="#000" stroke-width="1.25" stroke-linecap="butt"/>
<line x1="435.45" y1="326.55" x2="440.05" y2="326.55" stroke="#000" stroke-width="1.25" stroke-linecap="butt"/>
<line x1="435.45" y1="335.22" x2="440.05" y2="335.22" stroke="#000" stroke-width="1.25" stroke-linecap="butt"/>
<polygon points="437.00,323.00 434.45,327.59 439.55,327.59" fill="none" stroke="#000" stroke-width="1.2" stroke-linejoin="miter"/>
<polygon points="435.00,330.25 432.45,334.84 437.55,334.84" fill="none" stroke="#000" stroke-width="1.2" stroke-linejoin="miter"/>
<polygon points="439.25,330.75 436.70,335.34 441.80,335.34" fill="none" stroke="#000" stroke-width="1.2" stroke-linejoin="miter"/>
<line x1="451.60" y1="282.68" x2="451.60" y2="305.75" stroke="#000" stroke-width="1.25" stroke-linecap="butt"/>
<line x1="449.30" y1="282.68" x2="453.90" y2="282.68" stroke="#000" stroke-width="1.25" stroke-linecap="butt"/>
<line x1="449.30" y1="305.75" x2="453.90" y2="305.75" stroke="#000" stroke-width="1.25" stroke-linecap="butt"/>
<polygon points="450.00,282.75 447.45,287.34 452.55,287.34" fill="none" stroke="#000" stroke-width="1.2" stroke-linejoin="miter"/>
<polygon points="453.25,287.75 450.70,292.34 455.80,292.34" fill="none" stroke="#000" stroke-width="1.2" stroke-linejoin="miter"/>
<polygon points="451.75,304.75 449.20,309.34 454.30,309.34" fill="none" stroke="#000" stroke-width="1.2" stroke-linejoin="miter"/>
<line x1="465.25" y1="271.43" x2="465.25" y2="284.96" stroke="#000" stroke-width="1.25" stroke-linecap="butt"/>
<line x1="462.95" y1="271.43" x2="467.55" y2="271.43" stroke="#000" stroke-width="1.25" stroke-linecap="butt"/>
<line x1="462.95" y1="284.96" x2="467.55" y2="284.96" stroke="#000" stroke-width="1.25" stroke-linecap="butt"/>
<polygon points="465.00,268.00 462.45,272.59 467.55,272.59" fill="none" stroke="#000" stroke-width="1.2" stroke-linejoin="miter"/>
<polygon points="463.25,277.75 460.70,282.34 465.80,282.34" fill="none" stroke="#000" stroke-width="1.2" stroke-linejoin="miter"/>
<polygon points="467.00,281.00 464.45,285.59 469.55,285.59" fill="none" stroke="#000" stroke-width="1.2" stroke-linejoin="miter"/>
<line x1="479.00" y1="243.90" x2="479.00" y2="264.79" stroke="#000" stroke-width="1.25" stroke-linecap="butt"/>
<line x1="476.70" y1="243.90" x2="481.30" y2="243.90" stroke="#000" stroke-width="1.25" stroke-linecap="butt"/>
<line x1="476.70" y1="264.79" x2="481.30" y2="264.79" stroke="#000" stroke-width="1.25" stroke-linecap="butt"/>
<polygon points="479.25,241.00 476.70,245.59 481.80,245.59" fill="none" stroke="#000" stroke-width="1.2" stroke-linejoin="miter"/>
<polygon points="479.25,253.50 476.70,258.09 481.80,258.09" fill="none" stroke="#000" stroke-width="1.2" stroke-linejoin="miter"/>
<polygon points="479.25,261.75 476.70,266.34 481.80,266.34" fill="none" stroke="#000" stroke-width="1.2" stroke-linejoin="miter"/>
<text x="281.00" y="358.80" font-family='"Liberation Sans", Arial, sans-serif' font-size="11.3" font-weight="normal" font-style="normal" text-anchor="middle" fill="#000">ns</text>
<text x="296.00" y="358.80" font-family='"Liberation Sans", Arial, sans-serif' font-size="11.3" font-weight="normal" font-style="normal" text-anchor="middle" fill="#000">ns</text>
<text x="310.50" y="358.80" font-family='"Liberation Sans", Arial, sans-serif' font-size="11.3" font-weight="normal" font-style="normal" text-anchor="middle" fill="#000">ns</text>
<text x="324.00" y="351.80" font-family='"Liberation Sans", Arial, sans-serif' font-size="11.3" font-weight="normal" font-style="normal" text-anchor="middle" fill="#000">ns</text>
<text x="359.50" y="311.30" font-family='"Liberation Sans", Arial, sans-serif' font-size="11.3" font-weight="normal" font-style="normal" text-anchor="middle" fill="#000">ns</text>
<text x="373.25" y="275.00" font-family='"Liberation Sans", Arial, sans-serif' font-size="11.3" font-weight="normal" font-style="normal" text-anchor="middle" fill="#000">ns</text>
<text x="387.50" y="278.05" font-family='"Liberation Sans", Arial, sans-serif' font-size="10.6" font-weight="bold" font-style="normal" text-anchor="middle" fill="#000" letter-spacing="0.15">**</text>
<text x="400.75" y="246.80" font-family='"Liberation Sans", Arial, sans-serif' font-size="10.6" font-weight="bold" font-style="normal" text-anchor="middle" fill="#000" letter-spacing="0.15">**</text>
<text x="437.50" y="321.30" font-family='"Liberation Sans", Arial, sans-serif' font-size="11.3" font-weight="normal" font-style="normal" text-anchor="middle" fill="#000">ns</text>
<text x="451.25" y="281.80" font-family='"Liberation Sans", Arial, sans-serif' font-size="10.6" font-weight="bold" font-style="normal" text-anchor="middle" fill="#000" letter-spacing="0.15">**</text>
<text x="465.00" y="271.05" font-family='"Liberation Sans", Arial, sans-serif' font-size="10.6" font-weight="bold" font-style="normal" text-anchor="middle" fill="#000" letter-spacing="0.15">***</text>
<text x="479.50" y="243.05" font-family='"Liberation Sans", Arial, sans-serif' font-size="10.6" font-weight="bold" font-style="normal" text-anchor="middle" fill="#000" letter-spacing="0.15">***</text>
<polyline points="326.75,343.75 263.00,343.75" fill="none" stroke="#000" stroke-width="1.25" stroke-linejoin="miter"/>
<polyline points="297.50,343.75 297.50,218.00 454.00,218.00 454.00,233.00" fill="none" stroke="#000" stroke-width="1.25" stroke-linejoin="miter"/>
<polyline points="297.50,225.50 375.00,225.50 375.00,237.75" fill="none" stroke="#000" stroke-width="1.25" stroke-linejoin="miter"/>
<line x1="340.00" y1="237.75" x2="406.25" y2="237.75" stroke="#000" stroke-width="1.25" stroke-linecap="butt"/>
<line x1="421.25" y1="233.00" x2="485.00" y2="233.00" stroke="#000" stroke-width="1.25" stroke-linecap="butt"/>
<text x="344.70" y="235.00" font-family='"Liberation Sans", Arial, sans-serif' font-size="9.3" font-weight="bold" font-style="normal" text-anchor="middle" fill="#000" textLength="34.50" lengthAdjust="spacingAndGlyphs">&lt;0.0001</text>
<text x="421.60" y="228.80" font-family='"Liberation Sans", Arial, sans-serif' font-size="9.3" font-weight="bold" font-style="normal" text-anchor="middle" fill="#000" textLength="34.50" lengthAdjust="spacingAndGlyphs">&lt;0.0001</text>
<line x1="267.75" y1="379.30" x2="267.75" y2="384.60" stroke="#000" stroke-width="1.3" stroke-linecap="butt"/>
<text x="270.95" y="394.20" font-family='"Liberation Sans", Arial, sans-serif' font-size="9.9" font-weight="bold" font-style="normal" text-anchor="end" fill="#000" transform="rotate(-45 270.95 394.20)">0</text>
<line x1="281.60" y1="379.30" x2="281.60" y2="384.60" stroke="#000" stroke-width="1.3" stroke-linecap="butt"/>
<text x="284.80" y="394.20" font-family='"Liberation Sans", Arial, sans-serif' font-size="9.9" font-weight="bold" font-style="normal" text-anchor="end" fill="#000" transform="rotate(-45 284.80 394.20)">1</text>
<line x1="295.40" y1="379.30" x2="295.40" y2="384.60" stroke="#000" stroke-width="1.3" stroke-linecap="butt"/>
<text x="298.50" y="394.40" font-family='"Liberation Sans", Arial, sans-serif' font-size="9.9" font-weight="bold" font-style="normal" text-anchor="end" fill="#000" transform="rotate(-45 298.50 394.40)">10</text>
<line x1="309.25" y1="379.30" x2="309.25" y2="384.60" stroke="#000" stroke-width="1.3" stroke-linecap="butt"/>
<text x="312.35" y="394.40" font-family='"Liberation Sans", Arial, sans-serif' font-size="9.9" font-weight="bold" font-style="normal" text-anchor="end" fill="#000" transform="rotate(-45 312.35 394.40)">50</text>
<line x1="323.00" y1="379.30" x2="323.00" y2="384.60" stroke="#000" stroke-width="1.3" stroke-linecap="butt"/>
<text x="325.20" y="395.40" font-family='"Liberation Sans", Arial, sans-serif' font-size="9.9" font-weight="bold" font-style="normal" text-anchor="end" fill="#000" transform="rotate(-45 325.20 395.40)">100</text>
<line x1="345.90" y1="379.30" x2="345.90" y2="384.60" stroke="#000" stroke-width="1.3" stroke-linecap="butt"/>
<text x="349.10" y="394.20" font-family='"Liberation Sans", Arial, sans-serif' font-size="9.9" font-weight="bold" font-style="normal" text-anchor="end" fill="#000" transform="rotate(-45 349.10 394.20)">0</text>
<line x1="359.60" y1="379.30" x2="359.60" y2="384.60" stroke="#000" stroke-width="1.3" stroke-linecap="butt"/>
<text x="362.80" y="394.20" font-family='"Liberation Sans", Arial, sans-serif' font-size="9.9" font-weight="bold" font-style="normal" text-anchor="end" fill="#000" transform="rotate(-45 362.80 394.20)">1</text>
<line x1="373.40" y1="379.30" x2="373.40" y2="384.60" stroke="#000" stroke-width="1.3" stroke-linecap="butt"/>
<text x="376.50" y="394.40" font-family='"Liberation Sans", Arial, sans-serif' font-size="9.9" font-weight="bold" font-style="normal" text-anchor="end" fill="#000" transform="rotate(-45 376.50 394.40)">10</text>
<line x1="387.10" y1="379.30" x2="387.10" y2="384.60" stroke="#000" stroke-width="1.3" stroke-linecap="butt"/>
<text x="390.20" y="394.40" font-family='"Liberation Sans", Arial, sans-serif' font-size="9.9" font-weight="bold" font-style="normal" text-anchor="end" fill="#000" transform="rotate(-45 390.20 394.40)">50</text>
<line x1="401.00" y1="379.30" x2="401.00" y2="384.60" stroke="#000" stroke-width="1.3" stroke-linecap="butt"/>
<text x="403.20" y="395.40" font-family='"Liberation Sans", Arial, sans-serif' font-size="9.9" font-weight="bold" font-style="normal" text-anchor="end" fill="#000" transform="rotate(-45 403.20 395.40)">100</text>
<line x1="424.10" y1="379.30" x2="424.10" y2="384.60" stroke="#000" stroke-width="1.3" stroke-linecap="butt"/>
<text x="427.30" y="394.20" font-family='"Liberation Sans", Arial, sans-serif' font-size="9.9" font-weight="bold" font-style="normal" text-anchor="end" fill="#000" transform="rotate(-45 427.30 394.20)">0</text>
<line x1="437.75" y1="379.30" x2="437.75" y2="384.60" stroke="#000" stroke-width="1.3" stroke-linecap="butt"/>
<text x="440.95" y="394.20" font-family='"Liberation Sans", Arial, sans-serif' font-size="9.9" font-weight="bold" font-style="normal" text-anchor="end" fill="#000" transform="rotate(-45 440.95 394.20)">1</text>
<line x1="451.60" y1="379.30" x2="451.60" y2="384.60" stroke="#000" stroke-width="1.3" stroke-linecap="butt"/>
<text x="454.70" y="394.40" font-family='"Liberation Sans", Arial, sans-serif' font-size="9.9" font-weight="bold" font-style="normal" text-anchor="end" fill="#000" transform="rotate(-45 454.70 394.40)">10</text>
<line x1="465.25" y1="379.30" x2="465.25" y2="384.60" stroke="#000" stroke-width="1.3" stroke-linecap="butt"/>
<text x="468.35" y="394.40" font-family='"Liberation Sans", Arial, sans-serif' font-size="9.9" font-weight="bold" font-style="normal" text-anchor="end" fill="#000" transform="rotate(-45 468.35 394.40)">50</text>
<line x1="479.00" y1="379.30" x2="479.00" y2="384.60" stroke="#000" stroke-width="1.3" stroke-linecap="butt"/>
<text x="481.20" y="395.40" font-family='"Liberation Sans", Arial, sans-serif' font-size="9.9" font-weight="bold" font-style="normal" text-anchor="end" fill="#000" transform="rotate(-45 481.20 395.40)">100</text>
<text x="255.00" y="397.20" font-family='"Liberation Sans", Arial, sans-serif' font-size="10.7" font-weight="bold" font-style="normal" text-anchor="end" fill="#000" textLength="37.00" lengthAdjust="spacingAndGlyphs">PARP-i</text>
<text x="248.30" y="410.60" font-family='"Liberation Sans", Arial, sans-serif' font-size="10.7" font-weight="bold" font-style="normal" text-anchor="end" fill="#000" textLength="23.30" lengthAdjust="spacingAndGlyphs">(nM)</text>
<line x1="266.25" y1="410.00" x2="329.25" y2="410.00" stroke="#000" stroke-width="1.9" stroke-linecap="butt"/>
<line x1="342.00" y1="410.00" x2="404.50" y2="410.00" stroke="#000" stroke-width="1.9" stroke-linecap="butt"/>
<line x1="421.30" y1="410.00" x2="485.20" y2="410.00" stroke="#000" stroke-width="1.9" stroke-linecap="butt"/>
<text x="294.60" y="426.30" font-family='"Liberation Sans", Arial, sans-serif' font-size="11" font-weight="bold" font-style="italic" text-anchor="middle" fill="#000" textLength="16.80" lengthAdjust="spacingAndGlyphs">WT</text>
<text x="374.10" y="426.30" font-family='"Liberation Sans", Arial, sans-serif' font-size="11" font-weight="bold" font-style="italic" text-anchor="middle" fill="#000" textLength="63.30" lengthAdjust="spacingAndGlyphs">BRCA2-/- #1</text>
<text x="454.90" y="426.30" font-family='"Liberation Sans", Arial, sans-serif' font-size="11" font-weight="bold" font-style="italic" text-anchor="middle" fill="#000" textLength="63.80" lengthAdjust="spacingAndGlyphs">BRCA2-/- #2</text>
<line x1="270.00" y1="461.35" x2="270.00" y2="610.15" stroke="#000" stroke-width="1.3" stroke-linecap="butt"/>
<line x1="263.50" y1="609.50" x2="488.00" y2="609.50" stroke="#000" stroke-width="1.3" stroke-linecap="butt"/>
<text x="262.00" y="613.30" font-family='"Liberation Sans", Arial, sans-serif' font-size="10.7" font-weight="bold" font-style="normal" text-anchor="end" fill="#000">0</text>
<line x1="263.50" y1="580.00" x2="270.00" y2="580.00" stroke="#000" stroke-width="1.3" stroke-linecap="butt"/>
<text x="262.00" y="583.80" font-family='"Liberation Sans", Arial, sans-serif' font-size="10.7" font-weight="bold" font-style="normal" text-anchor="end" fill="#000">10</text>
<line x1="263.50" y1="550.50" x2="270.00" y2="550.50" stroke="#000" stroke-width="1.3" stroke-linecap="butt"/>
<text x="262.00" y="554.30" font-family='"Liberation Sans", Arial, sans-serif' font-size="10.7" font-weight="bold" font-style="normal" text-anchor="end" fill="#000">20</text>
<line x1="263.50" y1="521.00" x2="270.00" y2="521.00" stroke="#000" stroke-width="1.3" stroke-linecap="butt"/>
<text x="262.00" y="524.80" font-family='"Liberation Sans", Arial, sans-serif' font-size="10.7" font-weight="bold" font-style="normal" text-anchor="end" fill="#000">30</text>
<line x1="263.50" y1="491.50" x2="270.00" y2="491.50" stroke="#000" stroke-width="1.3" stroke-linecap="butt"/>
<text x="262.00" y="495.30" font-family='"Liberation Sans", Arial, sans-serif' font-size="10.7" font-weight="bold" font-style="normal" text-anchor="end" fill="#000">40</text>
<line x1="263.50" y1="462.00" x2="270.00" y2="462.00" stroke="#000" stroke-width="1.3" stroke-linecap="butt"/>
<text x="262.00" y="465.80" font-family='"Liberation Sans", Arial, sans-serif' font-size="10.7" font-weight="bold" font-style="normal" text-anchor="end" fill="#000">50</text>
<text x="242.30" y="538.00" font-family='"Liberation Sans", Arial, sans-serif' font-size="11.2" font-weight="bold" font-style="normal" text-anchor="middle" fill="#000" transform="rotate(-90 242.30 538.00)" textLength="115.00" lengthAdjust="spacingAndGlyphs">% Cells with BAF foci</text>
<rect x="273.25" y="597.11" width="7.30" height="12.39" fill="#d2d2d2"/>
<rect x="284.45" y="597.11" width="7.30" height="12.39" fill="#d2d2d2"/>
<rect x="295.65" y="600.95" width="7.30" height="8.55" fill="#d2d2d2"/>
<rect x="306.75" y="598.88" width="7.30" height="10.62" fill="#d2d2d2"/>
<rect x="317.95" y="597.11" width="7.30" height="12.39" fill="#d2d2d2"/>
<rect x="329.25" y="598.88" width="7.30" height="10.62" fill="#d2d2d2"/>
<rect x="347.60" y="567.02" width="7.30" height="42.48" fill="#b556d6"/>
<rect x="358.60" y="572.62" width="7.30" height="36.88" fill="#b556d6"/>
<rect x="369.75" y="549.32" width="7.30" height="60.18" fill="#b556d6"/>
<rect x="380.85" y="541.65" width="7.30" height="67.85" fill="#b556d6"/>
<rect x="391.95" y="521.88" width="7.30" height="87.62" fill="#b556d6"/>
<rect x="403.10" y="502.42" width="7.30" height="107.08" fill="#b556d6"/>
<rect x="421.25" y="562.60" width="7.30" height="46.91" fill="#f250d2"/>
<rect x="432.35" y="567.02" width="7.30" height="42.48" fill="#f250d2"/>
<rect x="443.45" y="549.32" width="7.30" height="60.18" fill="#f250d2"/>
<rect x="454.75" y="538.11" width="7.30" height="71.39" fill="#f250d2"/>
<rect x="465.75" y="521.29" width="7.30" height="88.20" fill="#f250d2"/>
<rect x="476.95" y="518.64" width="7.30" height="90.86" fill="#f250d2"/>
<circle cx="276.25" cy="595.75" r="1.9" fill="none" stroke="#000" stroke-width="1.6"/>
<circle cx="277.00" cy="598.00" r="1.9" fill="none" stroke="#000" stroke-width="1.6"/>
<circle cx="278.00" cy="600.00" r="1.9" fill="none" stroke="#000" stroke-width="1.6"/>
<circle cx="287.50" cy="596.50" r="1.9" fill="none" stroke="#000" stroke-width="1.6"/>
<circle cx="288.75" cy="597.50" r="1.9" fill="none" stroke="#000" stroke-width="1.6"/>
<circle cx="289.00" cy="598.20" r="1.9" fill="none" stroke="#000" stroke-width="1.6"/>
<circle cx="298.75" cy="600.50" r="1.9" fill="none" stroke="#000" stroke-width="1.6"/>
<circle cx="300.00" cy="602.50" r="1.9" fill="none" stroke="#000" stroke-width="1.6"/>
<circle cx="300.75" cy="604.00" r="1.9" fill="none" stroke="#000" stroke-width="1.6"/>
<circle cx="309.50" cy="598.50" r="1.9" fill="none" stroke="#000" stroke-width="1.6"/>
<circle cx="310.50" cy="599.50" r="1.9" fill="none" stroke="#000" stroke-width="1.6"/>
<circle cx="311.50" cy="600.00" r="1.9" fill="none" stroke="#000" stroke-width="1.6"/>
<circle cx="320.50" cy="595.00" r="1.9" fill="none" stroke="#000" stroke-width="1.6"/>
<circle cx="322.00" cy="597.50" r="1.9" fill="none" stroke="#000" stroke-width="1.6"/>
<circle cx="322.50" cy="600.00" r="1.9" fill="none" stroke="#000" stroke-width="1.6"/>
<circle cx="332.00" cy="597.50" r="1.9" fill="none" stroke="#000" stroke-width="1.6"/>
<circle cx="333.00" cy="599.00" r="1.9" fill="none" stroke="#000" stroke-width="1.6"/>
<circle cx="334.00" cy="600.00" r="1.9" fill="none" stroke="#000" stroke-width="1.6"/>
<line x1="351.25" y1="564.02" x2="351.25" y2="570.02" stroke="#000" stroke-width="1.25" stroke-linecap="butt"/>
<line x1="349.25" y1="564.02" x2="353.25" y2="564.02" stroke="#000" stroke-width="1.25" stroke-linecap="butt"/>
<line x1="349.25" y1="570.02" x2="353.25" y2="570.02" stroke="#000" stroke-width="1.25" stroke-linecap="butt"/>
<rect x="347.50" y="563.75" width="4.0" height="4.0" fill="none" stroke="#000" stroke-width="1.25"/>
<rect x="348.50" y="566.75" width="4.0" height="4.0" fill="none" stroke="#000" stroke-width="1.25"/>
<rect x="349.75" y="569.75" width="4.0" height="4.0" fill="none" stroke="#000" stroke-width="1.25"/>
<line x1="362.25" y1="567.50" x2="362.25" y2="577.75" stroke="#000" stroke-width="1.25" stroke-linecap="butt"/>
<line x1="360.25" y1="567.50" x2="364.25" y2="567.50" stroke="#000" stroke-width="1.25" stroke-linecap="butt"/>
<line x1="360.25" y1="577.75" x2="364.25" y2="577.75" stroke="#000" stroke-width="1.25" stroke-linecap="butt"/>
<rect x="360.00" y="564.75" width="4.0" height="4.0" fill="none" stroke="#000" stroke-width="1.25"/>
<rect x="358.50" y="569.75" width="4.0" height="4.0" fill="none" stroke="#000" stroke-width="1.25"/>
<rect x="361.00" y="575.00" width="4.0" height="4.0" fill="none" stroke="#000" stroke-width="1.25"/>
<line x1="373.40" y1="537.04" x2="373.40" y2="561.60" stroke="#000" stroke-width="1.25" stroke-linecap="butt"/>
<line x1="371.40" y1="537.04" x2="375.40" y2="537.04" stroke="#000" stroke-width="1.25" stroke-linecap="butt"/>
<line x1="371.40" y1="561.60" x2="375.40" y2="561.60" stroke="#000" stroke-width="1.25" stroke-linecap="butt"/>
<rect x="371.00" y="534.75" width="4.0" height="4.0" fill="none" stroke="#000" stroke-width="1.25"/>
<rect x="371.00" y="548.50" width="4.0" height="4.0" fill="none" stroke="#000" stroke-width="1.25"/>
<rect x="371.00" y="559.25" width="4.0" height="4.0" fill="none" stroke="#000" stroke-width="1.25"/>
<line x1="384.50" y1="533.76" x2="384.50" y2="549.54" stroke="#000" stroke-width="1.25" stroke-linecap="butt"/>
<line x1="382.50" y1="533.76" x2="386.50" y2="533.76" stroke="#000" stroke-width="1.25" stroke-linecap="butt"/>
<line x1="382.50" y1="549.54" x2="386.50" y2="549.54" stroke="#000" stroke-width="1.25" stroke-linecap="butt"/>
<rect x="382.50" y="531.75" width="4.0" height="4.0" fill="none" stroke="#000" stroke-width="1.25"/>
<rect x="382.50" y="540.50" width="4.0" height="4.0" fill="none" stroke="#000" stroke-width="1.25"/>
<rect x="382.50" y="547.50" width="4.0" height="4.0" fill="none" stroke="#000" stroke-width="1.25"/>
<line x1="395.60" y1="512.51" x2="395.60" y2="531.26" stroke="#000" stroke-width="1.25" stroke-linecap="butt"/>
<line x1="393.60" y1="512.51" x2="397.60" y2="512.51" stroke="#000" stroke-width="1.25" stroke-linecap="butt"/>
<line x1="393.60" y1="531.26" x2="397.60" y2="531.26" stroke="#000" stroke-width="1.25" stroke-linecap="butt"/>
<rect x="393.50" y="511.00" width="4.0" height="4.0" fill="none" stroke="#000" stroke-width="1.25"/>
<rect x="393.50" y="520.50" width="4.0" height="4.0" fill="none" stroke="#000" stroke-width="1.25"/>
<rect x="393.50" y="529.75" width="4.0" height="4.0" fill="none" stroke="#000" stroke-width="1.25"/>
<line x1="406.75" y1="489.66" x2="406.75" y2="515.17" stroke="#000" stroke-width="1.25" stroke-linecap="butt"/>
<line x1="404.75" y1="489.66" x2="408.75" y2="489.66" stroke="#000" stroke-width="1.25" stroke-linecap="butt"/>
<line x1="404.75" y1="515.17" x2="408.75" y2="515.17" stroke="#000" stroke-width="1.25" stroke-linecap="butt"/>
<rect x="404.50" y="488.00" width="4.0" height="4.0" fill="none" stroke="#000" stroke-width="1.25"/>
<rect x="404.50" y="500.00" width="4.0" height="4.0" fill="none" stroke="#000" stroke-width="1.25"/>
<rect x="404.50" y="513.50" width="4.0" height="4.0" fill="none" stroke="#000" stroke-width="1.25"/>
<line x1="424.90" y1="557.95" x2="424.90" y2="567.24" stroke="#000" stroke-width="1.25" stroke-linecap="butt"/>
<line x1="422.90" y1="557.95" x2="426.90" y2="557.95" stroke="#000" stroke-width="1.25" stroke-linecap="butt"/>
<line x1="422.90" y1="567.24" x2="426.90" y2="567.24" stroke="#000" stroke-width="1.25" stroke-linecap="butt"/>
<polygon points="424.00,555.35 421.55,559.76 426.45,559.76" fill="none" stroke="#000" stroke-width="1.2" stroke-linejoin="miter"/>
<polygon points="426.25,557.85 423.80,562.26 428.70,562.26" fill="none" stroke="#000" stroke-width="1.2" stroke-linejoin="miter"/>
<polygon points="425.00,564.35 422.55,568.76 427.45,568.76" fill="none" stroke="#000" stroke-width="1.2" stroke-linejoin="miter"/>
<line x1="436.00" y1="564.89" x2="436.00" y2="569.15" stroke="#000" stroke-width="1.25" stroke-linecap="butt"/>
<line x1="434.00" y1="564.89" x2="438.00" y2="564.89" stroke="#000" stroke-width="1.25" stroke-linecap="butt"/>
<line x1="434.00" y1="569.15" x2="438.00" y2="569.15" stroke="#000" stroke-width="1.25" stroke-linecap="butt"/>
<polygon points="434.50,561.85 432.05,566.26 436.95,566.26" fill="none" stroke="#000" stroke-width="1.2" stroke-linejoin="miter"/>
<polygon points="435.75,564.10 433.30,568.51 438.20,568.51" fill="none" stroke="#000" stroke-width="1.2" stroke-linejoin="miter"/>
<polygon points="437.50,566.10 435.05,570.51 439.95,570.51" fill="none" stroke="#000" stroke-width="1.2" stroke-linejoin="miter"/>
<line x1="447.10" y1="541.17" x2="447.10" y2="557.47" stroke="#000" stroke-width="1.25" stroke-linecap="butt"/>
<line x1="445.10" y1="541.17" x2="449.10" y2="541.17" stroke="#000" stroke-width="1.25" stroke-linecap="butt"/>
<line x1="445.10" y1="557.47" x2="449.10" y2="557.47" stroke="#000" stroke-width="1.25" stroke-linecap="butt"/>
<polygon points="447.00,538.60 444.55,543.01 449.45,543.01" fill="none" stroke="#000" stroke-width="1.2" stroke-linejoin="miter"/>
<polygon points="447.00,547.85 444.55,552.26 449.45,552.26" fill="none" stroke="#000" stroke-width="1.2" stroke-linejoin="miter"/>
<polygon points="447.00,554.85 444.55,559.26 449.45,559.26" fill="none" stroke="#000" stroke-width="1.2" stroke-linejoin="miter"/>
<line x1="458.40" y1="528.04" x2="458.40" y2="548.18" stroke="#000" stroke-width="1.25" stroke-linecap="butt"/>
<line x1="456.40" y1="528.04" x2="460.40" y2="528.04" stroke="#000" stroke-width="1.25" stroke-linecap="butt"/>
<line x1="456.40" y1="548.18" x2="460.40" y2="548.18" stroke="#000" stroke-width="1.25" stroke-linecap="butt"/>
<polygon points="458.25,523.10 455.80,527.51 460.70,527.51" fill="none" stroke="#000" stroke-width="1.2" stroke-linejoin="miter"/>
<polygon points="456.25,537.85 453.80,542.26 458.70,542.26" fill="none" stroke="#000" stroke-width="1.2" stroke-linejoin="miter"/>
<polygon points="460.00,542.35 457.55,546.76 462.45,546.76" fill="none" stroke="#000" stroke-width="1.2" stroke-linejoin="miter"/>
<line x1="469.40" y1="503.76" x2="469.40" y2="538.83" stroke="#000" stroke-width="1.25" stroke-linecap="butt"/>
<line x1="467.40" y1="503.76" x2="471.40" y2="503.76" stroke="#000" stroke-width="1.25" stroke-linecap="butt"/>
<line x1="467.40" y1="538.83" x2="471.40" y2="538.83" stroke="#000" stroke-width="1.25" stroke-linecap="butt"/>
<polygon points="469.25,501.10 466.80,505.51 471.70,505.51" fill="none" stroke="#000" stroke-width="1.2" stroke-linejoin="miter"/>
<polygon points="469.25,516.60 466.80,521.01 471.70,521.01" fill="none" stroke="#000" stroke-width="1.2" stroke-linejoin="miter"/>
<polygon points="469.25,536.10 466.80,540.51 471.70,540.51" fill="none" stroke="#000" stroke-width="1.2" stroke-linejoin="miter"/>
<line x1="480.60" y1="517.26" x2="480.60" y2="520.02" stroke="#000" stroke-width="1.25" stroke-linecap="butt"/>
<line x1="478.60" y1="517.26" x2="482.60" y2="517.26" stroke="#000" stroke-width="1.25" stroke-linecap="butt"/>
<line x1="478.60" y1="520.02" x2="482.60" y2="520.02" stroke="#000" stroke-width="1.25" stroke-linecap="butt"/>
<polygon points="478.75,514.10 476.30,518.51 481.20,518.51" fill="none" stroke="#000" stroke-width="1.2" stroke-linejoin="miter"/>
<polygon points="480.50,515.35 478.05,519.76 482.95,519.76" fill="none" stroke="#000" stroke-width="1.2" stroke-linejoin="miter"/>
<polygon points="482.00,516.85 479.55,521.26 484.45,521.26" fill="none" stroke="#000" stroke-width="1.2" stroke-linejoin="miter"/>
<text x="287.00" y="590.80" font-family='"Liberation Sans", Arial, sans-serif' font-size="10.2" font-weight="normal" font-style="normal" text-anchor="middle" fill="#000">ns</text>
<text x="299.50" y="592.50" font-family='"Liberation Sans", Arial, sans-serif' font-size="10.2" font-weight="normal" font-style="normal" text-anchor="middle" fill="#000">ns</text>
<text x="311.25" y="591.80" font-family='"Liberation Sans", Arial, sans-serif' font-size="10.2" font-weight="normal" font-style="normal" text-anchor="middle" fill="#000">ns</text>
<text x="322.50" y="590.00" font-family='"Liberation Sans", Arial, sans-serif' font-size="10.2" font-weight="normal" font-style="normal" text-anchor="middle" fill="#000">ns</text>
<text x="333.50" y="591.80" font-family='"Liberation Sans", Arial, sans-serif' font-size="10.2" font-weight="normal" font-style="normal" text-anchor="middle" fill="#000">ns</text>
<text x="361.75" y="557.50" font-family='"Liberation Sans", Arial, sans-serif' font-size="10.2" font-weight="normal" font-style="normal" text-anchor="middle" fill="#000">ns</text>
<text x="373.25" y="529.50" font-family='"Liberation Sans", Arial, sans-serif' font-size="10.2" font-weight="normal" font-style="normal" text-anchor="middle" fill="#000">ns</text>
<text x="384.25" y="527.30" font-family='"Liberation Sans", Arial, sans-serif' font-size="10.6" font-weight="bold" font-style="normal" text-anchor="middle" fill="#000" letter-spacing="0.15">**</text>
<text x="395.50" y="509.80" font-family='"Liberation Sans", Arial, sans-serif' font-size="10.6" font-weight="bold" font-style="normal" text-anchor="middle" fill="#000" letter-spacing="0.15">**</text>
<text x="406.75" y="489.30" font-family='"Liberation Sans", Arial, sans-serif' font-size="10.6" font-weight="bold" font-style="normal" text-anchor="middle" fill="#000" letter-spacing="0.15">***</text>
<text x="435.50" y="556.30" font-family='"Liberation Sans", Arial, sans-serif' font-size="10.2" font-weight="normal" font-style="normal" text-anchor="middle" fill="#000">ns</text>
<text x="446.75" y="534.50" font-family='"Liberation Sans", Arial, sans-serif' font-size="10.2" font-weight="normal" font-style="normal" text-anchor="middle" fill="#000">ns</text>
<text x="458.25" y="524.80" font-family='"Liberation Sans", Arial, sans-serif' font-size="10.6" font-weight="bold" font-style="normal" text-anchor="middle" fill="#000" letter-spacing="0.15">*</text>
<text x="469.25" y="503.05" font-family='"Liberation Sans", Arial, sans-serif' font-size="10.6" font-weight="bold" font-style="normal" text-anchor="middle" fill="#000" letter-spacing="0.15">*</text>
<text x="481.75" y="514.80" font-family='"Liberation Sans", Arial, sans-serif' font-size="10.6" font-weight="bold" font-style="normal" text-anchor="middle" fill="#000" letter-spacing="0.15">***</text>
<polyline points="273.75,582.50 336.00,582.50" fill="none" stroke="#000" stroke-width="1.25" stroke-linejoin="miter"/>
<polyline points="301.75,582.50 301.75,453.25 455.00,453.25 455.00,489.25" fill="none" stroke="#000" stroke-width="1.25" stroke-linejoin="miter"/>
<polyline points="301.75,463.75 378.50,463.75 378.50,477.50" fill="none" stroke="#000" stroke-width="1.25" stroke-linejoin="miter"/>
<line x1="347.50" y1="477.50" x2="410.00" y2="477.50" stroke="#000" stroke-width="1.25" stroke-linecap="butt"/>
<line x1="418.75" y1="489.25" x2="487.50" y2="489.25" stroke="#000" stroke-width="1.25" stroke-linecap="butt"/>
<text x="345.20" y="473.80" font-family='"Liberation Sans", Arial, sans-serif' font-size="9.3" font-weight="bold" font-style="normal" text-anchor="middle" fill="#000" textLength="34.50" lengthAdjust="spacingAndGlyphs">&lt;0.0001</text>
<text x="417.90" y="466.80" font-family='"Liberation Sans", Arial, sans-serif' font-size="9.3" font-weight="bold" font-style="normal" text-anchor="middle" fill="#000" textLength="34.50" lengthAdjust="spacingAndGlyphs">&lt;0.0001</text>
<line x1="276.90" y1="609.50" x2="276.90" y2="614.80" stroke="#000" stroke-width="1.3" stroke-linecap="butt"/>
<text x="279.70" y="624.10" font-family='"Liberation Sans", Arial, sans-serif' font-size="10.1" font-weight="bold" font-style="normal" text-anchor="end" fill="#000" transform="rotate(-45 279.70 624.10)">0</text>
<line x1="288.10" y1="609.50" x2="288.10" y2="614.80" stroke="#000" stroke-width="1.3" stroke-linecap="butt"/>
<text x="288.90" y="627.00" font-family='"Liberation Sans", Arial, sans-serif' font-size="10.1" font-weight="bold" font-style="normal" text-anchor="end" fill="#000" transform="rotate(-45 288.90 627.00)">0.1</text>
<line x1="299.30" y1="609.50" x2="299.30" y2="614.80" stroke="#000" stroke-width="1.3" stroke-linecap="butt"/>
<text x="302.10" y="624.10" font-family='"Liberation Sans", Arial, sans-serif' font-size="10.1" font-weight="bold" font-style="normal" text-anchor="end" fill="#000" transform="rotate(-45 302.10 624.10)">1</text>
<line x1="310.40" y1="609.50" x2="310.40" y2="614.80" stroke="#000" stroke-width="1.3" stroke-linecap="butt"/>
<text x="313.20" y="624.10" font-family='"Liberation Sans", Arial, sans-serif' font-size="10.1" font-weight="bold" font-style="normal" text-anchor="end" fill="#000" transform="rotate(-45 313.20 624.10)">5</text>
<line x1="321.60" y1="609.50" x2="321.60" y2="614.80" stroke="#000" stroke-width="1.3" stroke-linecap="butt"/>
<text x="323.90" y="626.00" font-family='"Liberation Sans", Arial, sans-serif' font-size="10.1" font-weight="bold" font-style="normal" text-anchor="end" fill="#000" transform="rotate(-45 323.90 626.00)">10</text>
<line x1="332.90" y1="609.50" x2="332.90" y2="614.80" stroke="#000" stroke-width="1.3" stroke-linecap="butt"/>
<text x="335.20" y="626.00" font-family='"Liberation Sans", Arial, sans-serif' font-size="10.1" font-weight="bold" font-style="normal" text-anchor="end" fill="#000" transform="rotate(-45 335.20 626.00)">20</text>
<line x1="351.25" y1="609.50" x2="351.25" y2="614.80" stroke="#000" stroke-width="1.3" stroke-linecap="butt"/>
<text x="354.05" y="624.10" font-family='"Liberation Sans", Arial, sans-serif' font-size="10.1" font-weight="bold" font-style="normal" text-anchor="end" fill="#000" transform="rotate(-45 354.05 624.10)">0</text>
<line x1="362.25" y1="609.50" x2="362.25" y2="614.80" stroke="#000" stroke-width="1.3" stroke-linecap="butt"/>
<text x="363.05" y="627.00" font-family='"Liberation Sans", Arial, sans-serif' font-size="10.1" font-weight="bold" font-style="normal" text-anchor="end" fill="#000" transform="rotate(-45 363.05 627.00)">0.1</text>
<line x1="373.40" y1="609.50" x2="373.40" y2="614.80" stroke="#000" stroke-width="1.3" stroke-linecap="butt"/>
<text x="376.20" y="624.10" font-family='"Liberation Sans", Arial, sans-serif' font-size="10.1" font-weight="bold" font-style="normal" text-anchor="end" fill="#000" transform="rotate(-45 376.20 624.10)">1</text>
<line x1="384.50" y1="609.50" x2="384.50" y2="614.80" stroke="#000" stroke-width="1.3" stroke-linecap="butt"/>
<text x="387.30" y="624.10" font-family='"Liberation Sans", Arial, sans-serif' font-size="10.1" font-weight="bold" font-style="normal" text-anchor="end" fill="#000" transform="rotate(-45 387.30 624.10)">5</text>
<line x1="395.60" y1="609.50" x2="395.60" y2="614.80" stroke="#000" stroke-width="1.3" stroke-linecap="butt"/>
<text x="397.90" y="626.00" font-family='"Liberation Sans", Arial, sans-serif' font-size="10.1" font-weight="bold" font-style="normal" text-anchor="end" fill="#000" transform="rotate(-45 397.90 626.00)">10</text>
<line x1="406.75" y1="609.50" x2="406.75" y2="614.80" stroke="#000" stroke-width="1.3" stroke-linecap="butt"/>
<text x="409.05" y="626.00" font-family='"Liberation Sans", Arial, sans-serif' font-size="10.1" font-weight="bold" font-style="normal" text-anchor="end" fill="#000" transform="rotate(-45 409.05 626.00)">20</text>
<line x1="424.90" y1="609.50" x2="424.90" y2="614.80" stroke="#000" stroke-width="1.3" stroke-linecap="butt"/>
<text x="427.70" y="624.10" font-family='"Liberation Sans", Arial, sans-serif' font-size="10.1" font-weight="bold" font-style="normal" text-anchor="end" fill="#000" transform="rotate(-45 427.70 624.10)">0</text>
<line x1="436.00" y1="609.50" x2="436.00" y2="614.80" stroke="#000" stroke-width="1.3" stroke-linecap="butt"/>
<text x="436.80" y="627.00" font-family='"Liberation Sans", Arial, sans-serif' font-size="10.1" font-weight="bold" font-style="normal" text-anchor="end" fill="#000" transform="rotate(-45 436.80 627.00)">0.1</text>
<line x1="447.10" y1="609.50" x2="447.10" y2="614.80" stroke="#000" stroke-width="1.3" stroke-linecap="butt"/>
<text x="449.90" y="624.10" font-family='"Liberation Sans", Arial, sans-serif' font-size="10.1" font-weight="bold" font-style="normal" text-anchor="end" fill="#000" transform="rotate(-45 449.90 624.10)">1</text>
<line x1="458.40" y1="609.50" x2="458.40" y2="614.80" stroke="#000" stroke-width="1.3" stroke-linecap="butt"/>
<text x="461.20" y="624.10" font-family='"Liberation Sans", Arial, sans-serif' font-size="10.1" font-weight="bold" font-style="normal" text-anchor="end" fill="#000" transform="rotate(-45 461.20 624.10)">5</text>
<line x1="469.40" y1="609.50" x2="469.40" y2="614.80" stroke="#000" stroke-width="1.3" stroke-linecap="butt"/>
<text x="471.70" y="626.00" font-family='"Liberation Sans", Arial, sans-serif' font-size="10.1" font-weight="bold" font-style="normal" text-anchor="end" fill="#000" transform="rotate(-45 471.70 626.00)">10</text>
<line x1="480.60" y1="609.50" x2="480.60" y2="614.80" stroke="#000" stroke-width="1.3" stroke-linecap="butt"/>
<text x="482.90" y="626.00" font-family='"Liberation Sans", Arial, sans-serif' font-size="10.1" font-weight="bold" font-style="normal" text-anchor="end" fill="#000" transform="rotate(-45 482.90 626.00)">20</text>
<text x="260.00" y="630.00" font-family='"Liberation Sans", Arial, sans-serif' font-size="10.7" font-weight="bold" font-style="normal" text-anchor="end" fill="#000" textLength="29.50" lengthAdjust="spacingAndGlyphs">Polθ-i</text>
<text x="256.30" y="644.50" font-family='"Liberation Sans", Arial, sans-serif' font-size="10.7" font-weight="bold" font-style="normal" text-anchor="end" fill="#000" textLength="23.80" lengthAdjust="spacingAndGlyphs">(µM)</text>
<line x1="270.50" y1="639.00" x2="328.75" y2="639.00" stroke="#000" stroke-width="1.9" stroke-linecap="butt"/>
<line x1="343.60" y1="639.00" x2="402.00" y2="639.00" stroke="#000" stroke-width="1.9" stroke-linecap="butt"/>
<line x1="418.10" y1="639.00" x2="476.90" y2="639.00" stroke="#000" stroke-width="1.9" stroke-linecap="butt"/>
<text x="300.00" y="652.60" font-family='"Liberation Sans", Arial, sans-serif' font-size="11" font-weight="bold" font-style="italic" text-anchor="middle" fill="#000" textLength="17.50" lengthAdjust="spacingAndGlyphs">WT</text>
<text x="373.50" y="652.60" font-family='"Liberation Sans", Arial, sans-serif' font-size="11" font-weight="bold" font-style="italic" text-anchor="middle" fill="#000" textLength="64.50" lengthAdjust="spacingAndGlyphs">BRCA2-/- #1</text>
<text x="447.90" y="652.60" font-family='"Liberation Sans", Arial, sans-serif' font-size="11" font-weight="bold" font-style="italic" text-anchor="middle" fill="#000" textLength="65.50" lengthAdjust="spacingAndGlyphs">BRCA2-/- #2</text>
<defs>
<filter id="b1" x="-20%" y="-20%" width="140%" height="140%" color-interpolation-filters="sRGB">
 <feTurbulence type="fractalNoise" baseFrequency="0.8" numOctaves="2" seed="11" result="t"/>
 <feColorMatrix in="t" type="matrix" values="1.0 0 0 0 0  1.0 0 0 0 0  1.0 0 0 0 0  0 0 0 0 1" result="n"/>
 <feGaussianBlur in="SourceGraphic" stdDeviation="0.5" result="s"/>
 <feComposite in="s" in2="n" operator="arithmetic" k1="0.64" k2="0.68" k3="0" k4="0" result="c"/>
 <feComposite in="c" in2="s" operator="in"/>
</filter>
<filter id="b1s" x="-20%" y="-20%" width="140%" height="140%" color-interpolation-filters="sRGB">
 <feTurbulence type="fractalNoise" baseFrequency="0.7" numOctaves="2" seed="5" result="t"/>
 <feColorMatrix in="t" type="matrix" values="1.0 0 0 0 0  1.0 0 0 0 0  1.0 0 0 0 0  0 0 0 0 1" result="n"/>
 <feGaussianBlur in="SourceGraphic" stdDeviation="0.5" result="s"/>
 <feComposite in="s" in2="n" operator="arithmetic" k1="0.36" k2="0.82" k3="0" k4="0" result="c"/>
 <feComposite in="c" in2="s" operator="in"/>
</filter>
<filter id="b0" x="-20%" y="-20%" width="140%" height="140%" color-interpolation-filters="sRGB"><feGaussianBlur stdDeviation="0.5"/></filter>
<filter id="b2" x="-30%" y="-30%" width="160%" height="160%" color-interpolation-filters="sRGB"><feGaussianBlur stdDeviation="1.1"/></filter>
<filter id="b4" x="-50%" y="-50%" width="200%" height="200%" color-interpolation-filters="sRGB"><feGaussianBlur stdDeviation="3.5"/></filter>
<filter id="noise" x="0" y="0" width="100%" height="100%" color-interpolation-filters="sRGB"><feTurbulence type="fractalNoise" baseFrequency="0.85" numOctaves="2" seed="7" result="n"/><feColorMatrix type="matrix" values="0 0 0 0 1  0 0 0 0 1  0 0 0 0 1  1.4 0 0 0 -0.55"/></filter>
<radialGradient id="limb" cx="50%" cy="50%" r="50%"><stop offset="0" stop-color="#fff" stop-opacity="0"/><stop offset="0.62" stop-color="#fff" stop-opacity="0"/><stop offset="0.9" stop-color="#fff" stop-opacity="0.07"/><stop offset="1" stop-color="#fff" stop-opacity="0.15"/></radialGradient>
</defs>
<text x="119.80" y="25.60" font-family='"Liberation Serif", "Times New Roman", serif' font-size="11.6" font-weight="bold" font-style="normal" text-anchor="middle" fill="#000" textLength="49.50" lengthAdjust="spacingAndGlyphs">GFP-BAF</text>
<line x1="51.00" y1="32.80" x2="190.50" y2="32.80" stroke="#000" stroke-width="1.6" stroke-linecap="butt"/>
<text x="81.00" y="47.30" font-family='"Liberation Serif", "Times New Roman", serif' font-size="11.6" font-weight="bold" font-style="normal" text-anchor="middle" fill="#000" textLength="33.50" lengthAdjust="spacingAndGlyphs">DMSO</text>
<text x="155.00" y="47.30" font-family='"Liberation Serif", "Times New Roman", serif' font-size="11.6" font-weight="bold" font-style="normal" text-anchor="middle" fill="#000" textLength="23.00" lengthAdjust="spacingAndGlyphs">APH</text>
<text x="41.50" y="85.50" font-family='"Liberation Serif", "Times New Roman", serif' font-size="11.6" font-weight="bold" font-style="normal" text-anchor="middle" fill="#000" transform="rotate(-90 41.50 85.50)" textLength="33.50" lengthAdjust="spacingAndGlyphs">DMSO</text>
<text x="41.50" y="154.50" font-family='"Liberation Serif", "Times New Roman", serif' font-size="11.6" font-weight="bold" font-style="normal" text-anchor="middle" fill="#000" transform="rotate(-90 41.50 154.50)" textLength="61.00" lengthAdjust="spacingAndGlyphs">5 µM ATR-i</text>
<clipPath id="tc1"><rect x="46" y="52.5" width="71" height="66"/></clipPath>
<g clip-path="url(#tc1)"><rect x="46" y="52.5" width="71" height="66" fill="#0d0d0d"/>
<ellipse cx="80" cy="84" rx="34" ry="22" transform="rotate(-15 80 84)" fill="#181818" filter="url(#b4)"/>
<ellipse cx="60" cy="112" rx="18" ry="8" transform="rotate(0 60 112)" fill="#060606" filter="url(#b4)"/>
<g filter="url(#b1)" transform="rotate(-22 83.4 86.1)"><ellipse cx="83.4" cy="86.1" rx="19.7" ry="13.4" fill="#313131" stroke="#878787" stroke-width="0.8"/><ellipse cx="83.4" cy="86.1" rx="19.7" ry="13.4" fill="url(#limb)"/></g>
<circle cx="96" cy="82.5" r="0.8" fill="#aaaaaa" filter="url(#b0)"/>
<circle cx="84" cy="92.5" r="0.7" fill="#969696" filter="url(#b0)"/>
<rect x="46" y="52.5" width="71" height="66" fill="#fff" filter="url(#noise)" opacity="0.121"/>
</g>
<defs><linearGradient id="a2g" gradientUnits="userSpaceOnUse" x1="137.8" y1="65.8" x2="147.4" y2="74"><stop offset="0" stop-color="#fff" stop-opacity="1"/><stop offset="0.4" stop-color="#fff" stop-opacity="0.7"/><stop offset="1" stop-color="#fff" stop-opacity="0"/></linearGradient><linearGradient id="a2h" gradientUnits="userSpaceOnUse" x1="140" y1="66" x2="172" y2="110"><stop offset="0" stop-color="#b4b4b4"/><stop offset="0.5" stop-color="#8e8e8e"/><stop offset="1" stop-color="#7c7c7c"/></linearGradient></defs>
<clipPath id="tc2"><rect x="119.5" y="52.5" width="71" height="66"/></clipPath>
<g clip-path="url(#tc2)"><rect x="119.5" y="52.5" width="71" height="66" fill="#0c0c0c"/>
<g filter="url(#b1s)"><path d="M129.9,63.4 C130.5,61 132.5,60.2 134.2,60.2 C138,59 141,59 145,59.1 C148,59.3 151,60 153.6,61.3 C156.5,62.8 159,65 161.2,67.2 C163.5,69.8 165.8,72.7 167.7,75.8 C169.8,79 171.6,82.3 173.1,85.6 C174.4,88.4 175.5,91.3 176.3,94.2 C177,96.7 177.3,99.3 177.2,101.8 C178.6,103 180.2,104.7 180.7,106.6 C181,108.8 180,110.5 178.5,111.5 C177,112.6 175.5,113 174.2,113.1 C172,113.4 169.8,113.2 167.7,112.8 C165.5,112.2 163.3,111.1 161.2,109.9 C158.6,109 156,108.3 153.6,107.2 C152.2,105.6 151.3,103.7 150.4,101.8 C149,99.6 147.6,97.4 146.1,95.3 C144.7,93.1 143.3,90.9 141.8,88.8 C140,86.6 138.1,84.5 136.4,82.3 C135.2,80.2 134.1,78 133.1,75.8 C132.4,73.7 131.9,71.5 131.5,69.4 C131.1,68.3 130.8,67.2 130.7,66.1 C130.2,65.3 129.8,64.4 129.9,63.4 Z" fill="url(#a2h)" stroke="#a8a8a8" stroke-width="0.9"/></g>
<circle cx="146" cy="75" r="2.2" fill="#646464" filter="url(#b2)"/>
<circle cx="151" cy="80" r="2.6" fill="#646464" filter="url(#b2)"/>
<circle cx="157" cy="85" r="2.4" fill="#646464" filter="url(#b2)"/>
<circle cx="163" cy="88" r="2.2" fill="#646464" filter="url(#b2)"/>
<circle cx="153" cy="93" r="2.3" fill="#646464" filter="url(#b2)"/>
<circle cx="161" cy="96" r="2.2" fill="#646464" filter="url(#b2)"/>
<circle cx="167" cy="99" r="2.0" fill="#646464" filter="url(#b2)"/>
<circle cx="143" cy="81" r="1.8" fill="#646464" filter="url(#b2)"/>
<circle cx="158" cy="103" r="1.8" fill="#646464" filter="url(#b2)"/>
<path d="M129.9,63.4 C130.5,61 132.5,60.2 134.2,60.2 C138,59 141,59 145,59.1 C148,59.3 151,60 153.6,61.3 C156.5,62.8 159,65 161.2,67.2 C163.5,69.8 165.8,72.7 167.7,75.8 C169.8,79 171.6,82.3 173.1,85.6 C174.4,88.4 175.5,91.3 176.3,94.2 C177,96.7 177.3,99.3 177.2,101.8 C178.6,103 180.2,104.7 180.7,106.6 C181,108.8 180,110.5 178.5,111.5 C177,112.6 175.5,113 174.2,113.1 C172,113.4 169.8,113.2 167.7,112.8 C165.5,112.2 163.3,111.1 161.2,109.9 C158.6,109 156,108.3 153.6,107.2 C152.2,105.6 151.3,103.7 150.4,101.8 C149,99.6 147.6,97.4 146.1,95.3 C144.7,93.1 143.3,90.9 141.8,88.8 C140,86.6 138.1,84.5 136.4,82.3 C135.2,80.2 134.1,78 133.1,75.8 C132.4,73.7 131.9,71.5 131.5,69.4 C131.1,68.3 130.8,67.2 130.7,66.1 C130.2,65.3 129.8,64.4 129.9,63.4 Z" fill="url(#a2g)" filter="url(#b0)"/>
<circle cx="153.5" cy="64.3" r="0.9" fill="#ebebeb" filter="url(#b0)"/>
<path d="M168,106.5 C169.5,103.5 173,102.5 176,103 C179,103.5 181,106 180.6,108.5 C180,111.5 177,113.2 174,113.3 C171,113.6 168,112.8 167,110.5 C166.5,109 167,107.5 168,106.5 Z" fill="#ffffff" filter="url(#b0)"/>
<rect x="119.5" y="52.5" width="71" height="66" fill="#fff" filter="url(#noise)" opacity="0.088"/>
</g>
<clipPath id="tc3"><rect x="46" y="121" width="71" height="66.5"/></clipPath>
<g clip-path="url(#tc3)"><rect x="46" y="121" width="71" height="66.5" fill="#0d0d0d"/>
<ellipse cx="84" cy="152" rx="30" ry="26" transform="rotate(0 84 152)" fill="#191919" filter="url(#b4)"/>
<ellipse cx="58" cy="176" rx="12" ry="9" transform="rotate(0 58 176)" fill="#050505" filter="url(#b4)"/>
<ellipse cx="112" cy="184" rx="8" ry="6" transform="rotate(0 112 184)" fill="#242424" filter="url(#b2)"/>
<g filter="url(#b1)" transform="rotate(-12 83 154.7)"><ellipse cx="83" cy="154.7" rx="14.6" ry="17" fill="#373737" stroke="#707070" stroke-width="0.8"/><ellipse cx="83" cy="154.7" rx="14.6" ry="17" fill="url(#limb)"/></g>
<circle cx="80.6" cy="144" r="0.9" fill="#c8c8c8" filter="url(#b0)"/>
<rect x="46" y="121" width="71" height="66.5" fill="#fff" filter="url(#noise)" opacity="0.132"/>
</g>
<clipPath id="tc4"><rect x="119.5" y="121" width="71" height="66.5"/></clipPath>
<g clip-path="url(#tc4)"><rect x="119.5" y="121" width="71" height="66.5" fill="#0c0c0c"/>
<g filter="url(#b1)" transform="rotate(33 158.6 157.6)"><ellipse cx="158.6" cy="157.6" rx="26.4" ry="13.6" fill="#707070" stroke="#9d9d9d" stroke-width="1.0"/><ellipse cx="158.6" cy="157.6" rx="26.4" ry="13.6" fill="url(#limb)"/></g>
<circle cx="160" cy="155" r="3.5" fill="#5c5c5c" filter="url(#b2)"/>
<circle cx="168" cy="163" r="3" fill="#5c5c5c" filter="url(#b2)"/>
<circle cx="152" cy="151" r="2.6" fill="#5c5c5c" filter="url(#b2)"/>
<circle cx="163" cy="166" r="2.5" fill="#5c5c5c" filter="url(#b2)"/>
<circle cx="142.3" cy="135.3" r="3.4" fill="#ffffff" filter="url(#b0)"/>
<circle cx="146.2" cy="139" r="2.2" fill="#fafafa" filter="url(#b0)"/>
<circle cx="139.8" cy="143.4" r="4.1" fill="#ffffff" filter="url(#b0)"/>
<circle cx="145.5" cy="141.8" r="3.0" fill="#fafafa" filter="url(#b0)"/>
<circle cx="149" cy="141.2" r="1.6" fill="#ebebeb" filter="url(#b0)"/>
<circle cx="143.7" cy="158.6" r="3.3" fill="#ffffff" filter="url(#b0)"/>
<circle cx="146.3" cy="156.6" r="2.4" fill="#fafafa" filter="url(#b0)"/>
<circle cx="149.8" cy="166" r="3.3" fill="#ffffff" filter="url(#b0)"/>
<circle cx="152.5" cy="168" r="2.6" fill="#ffffff" filter="url(#b0)"/>
<circle cx="155.3" cy="170.2" r="2.9" fill="#ffffff" filter="url(#b0)"/>
<circle cx="133.7" cy="162" r="3.2" fill="#b4b4b4" filter="url(#b1)"/>
<rect x="119.5" y="121" width="71" height="66.5" fill="#fff" filter="url(#noise)" opacity="0.088"/>
</g>
<rect x="158.00" y="182.00" width="26.40" height="2.50" fill="#fff"/>
<text x="116.80" y="233.00" font-family='"Liberation Serif", "Times New Roman", serif' font-size="11.4" font-weight="bold" font-style="normal" text-anchor="middle" fill="#000" textLength="48.50" lengthAdjust="spacingAndGlyphs">GFP-BAF</text>
<line x1="29.00" y1="239.60" x2="209.30" y2="239.60" stroke="#000" stroke-width="1.6" stroke-linecap="butt"/>
<text x="49.80" y="255.00" font-family='"Liberation Serif", "Times New Roman", serif' font-size="12.2" font-weight="normal" font-style="italic" text-anchor="middle" fill="#000" textLength="15.50" lengthAdjust="spacingAndGlyphs">WT</text>
<text x="116.00" y="255.00" font-family='"Liberation Serif", "Times New Roman", serif' font-size="12.2" font-weight="normal" font-style="italic" text-anchor="middle" fill="#000" textLength="58.30" lengthAdjust="spacingAndGlyphs">BRCA2-/- #1</text>
<text x="178.70" y="255.00" font-family='"Liberation Serif", "Times New Roman", serif' font-size="12.2" font-weight="normal" font-style="italic" text-anchor="middle" fill="#000" textLength="58.30" lengthAdjust="spacingAndGlyphs">BRCA2-/- #2</text>
<text x="18.80" y="288.70" font-family='"Liberation Serif", "Times New Roman", serif' font-size="11.4" font-weight="normal" font-style="normal" text-anchor="middle" fill="#000" transform="rotate(-90 18.80 288.70)" textLength="31.50" lengthAdjust="spacingAndGlyphs">DMSO</text>
<text x="18.80" y="351.50" font-family='"Liberation Serif", "Times New Roman", serif' font-size="11.4" font-weight="normal" font-style="normal" text-anchor="middle" fill="#000" transform="rotate(-90 18.80 351.50)" textLength="63.00" lengthAdjust="spacingAndGlyphs">50 nM PARP-i</text>
<clipPath id="tc5"><rect x="22.5" y="258.25" width="60.5" height="60.5"/></clipPath>
<g clip-path="url(#tc5)"><rect x="22.5" y="258.25" width="60.5" height="60.5" fill="#191919"/>
<ellipse cx="30" cy="300" rx="10" ry="20" transform="rotate(0 30 300)" fill="#0e0e0e" filter="url(#b4)"/>
<ellipse cx="75" cy="262" rx="8" ry="5" transform="rotate(0 75 262)" fill="#2d2d2d" filter="url(#b2)"/>
<g filter="url(#b1)" transform="rotate(15 37.1 270.3)"><ellipse cx="37.1" cy="270.3" rx="7.3" ry="9.8" fill="#3e3e3e" stroke="#4d4d4d" stroke-width="0.8"/><ellipse cx="37.1" cy="270.3" rx="7.3" ry="9.8" fill="url(#limb)"/></g>
<g filter="url(#b1)" transform="rotate(14 69 288.4)"><ellipse cx="69" cy="288.4" rx="8.2" ry="10.9" fill="#404040" stroke="#5d5d5d" stroke-width="0.85"/><ellipse cx="69" cy="288.4" rx="8.2" ry="10.9" fill="url(#limb)"/></g>
<g filter="url(#b1)" transform="rotate(12 42.2 306.6)"><ellipse cx="42.2" cy="306.6" rx="7.7" ry="11.6" fill="#424242" stroke="#5a5a5a" stroke-width="0.85"/><ellipse cx="42.2" cy="306.6" rx="7.7" ry="11.6" fill="url(#limb)"/></g>
<g filter="url(#b1)" transform="rotate(0 79 258)"><ellipse cx="79" cy="258" rx="6" ry="3" fill="#525252" stroke="#606060" stroke-width="0.7"/><ellipse cx="79" cy="258" rx="6" ry="3" fill="url(#limb)"/></g>
<rect x="22.5" y="258.25" width="60.5" height="60.5" fill="#fff" filter="url(#noise)" opacity="0.066"/>
</g>
<clipPath id="tc6"><rect x="85.5" y="258.25" width="60.5" height="60.5"/></clipPath>
<g clip-path="url(#tc6)"><rect x="85.5" y="258.25" width="60.5" height="60.5" fill="#060606"/>
<ellipse cx="111" cy="280" rx="17" ry="15" transform="rotate(0 111 280)" fill="#111111" filter="url(#b4)"/>
<ellipse cx="90" cy="311" rx="7" ry="9" transform="rotate(0 90 311)" fill="#111111" filter="url(#b4)"/>
<ellipse cx="128" cy="296" rx="14" ry="8" transform="rotate(0 128 296)" fill="#0e0e0e" filter="url(#b4)"/>
<path d="M94.1,291.7 C94.3,288.8 95.6,287.2 97.5,286.9 C99.6,286.8 101.5,288 103.3,288.9 C104.9,289.7 106.5,290.4 108.1,290.3 C110.5,290 112.6,288.5 114.9,288.4 C117,288.4 118.8,289.3 119.2,290.8 C119.8,292.1 119.8,293.2 119.2,294.2 C118.2,295.8 116.6,296.8 114.9,297.5 C113,298.4 111,299.1 109.1,299.5 C107.2,300 105.2,300.3 103.3,300 C101.6,299.3 100.5,297.7 99.4,296.6 C98.2,295.9 96.8,295.7 95.6,295.1 C94.5,294.3 94,293 94.1,291.7 Z" fill="#373737" stroke="#494949" stroke-width="0.8" stroke-linejoin="round" filter="url(#b1)"/>
<path d="M121.6,289.8 C122.2,288.3 123.3,287.3 124.5,286.4 C126,285.2 127.9,284.4 129.4,283.1 C130.5,281.9 130.6,280.2 131.3,278.7 C132,277.2 133.2,276.3 134.7,276.3 C136.6,276.3 137.9,277.2 138.5,278.7 C139.4,280.3 140,282.1 140,284 C139.9,286.2 138.9,288.3 137.6,289.8 C136.4,291.1 134.9,292.1 133.2,292.7 C131.7,293.2 130,293 128.4,293.2 C127.3,293.5 126.6,294.3 125.5,294.6 C124.3,294.7 123.2,294.4 122.6,293.7 C121.6,292.6 121.2,291.1 121.6,289.8 Z" fill="#3a3a3a" stroke="#4d4d4d" stroke-width="0.8" stroke-linejoin="round" filter="url(#b1)"/>
<path d="M102.9,289.8 C103.5,293 103.6,296 103.2,299.5 M105.5,291.3 L109,292.2" stroke="#d0d0d0" stroke-width="1" fill="none" filter="url(#b0)"/>
<circle cx="134.7" cy="277" r="0.9" fill="#d7d7d7" filter="url(#b0)"/>
<circle cx="103.6" cy="299.6" r="0.9" fill="#bebebe" filter="url(#b0)"/>
<rect x="85.5" y="258.25" width="60.5" height="60.5" fill="#fff" filter="url(#noise)" opacity="0.055"/>
</g>
<clipPath id="tc7"><rect x="148.6" y="258.25" width="60.5" height="60.5"/></clipPath>
<g clip-path="url(#tc7)"><rect x="148.6" y="258.25" width="60.5" height="60.5" fill="#070707"/>
<ellipse cx="192" cy="300" rx="14" ry="24" transform="rotate(-25 192 300)" fill="#141414" filter="url(#b4)"/>
<ellipse cx="170" cy="283" rx="16" ry="14" transform="rotate(0 170 283)" fill="#0e0e0e" filter="url(#b4)"/>
<g filter="url(#b1)" transform="rotate(8 174.5 266.7)"><ellipse cx="174.5" cy="266.7" rx="5.2" ry="6" fill="#4d4d4d" stroke="#5b5b5b" stroke-width="0.6"/><ellipse cx="174.5" cy="266.7" rx="5.2" ry="6" fill="url(#limb)"/></g>
<g filter="url(#b1)" transform="rotate(-15 165.3 276.3)"><ellipse cx="165.3" cy="276.3" rx="4.3" ry="7.3" fill="#565656" stroke="#646464" stroke-width="0.7"/><ellipse cx="165.3" cy="276.3" rx="4.3" ry="7.3" fill="url(#limb)"/></g>
<g filter="url(#b1)" transform="rotate(18 163.4 289.8)"><ellipse cx="163.4" cy="289.8" rx="11.5" ry="6" fill="#4d4d4d" stroke="#5b5b5b" stroke-width="0.7"/><ellipse cx="163.4" cy="289.8" rx="11.5" ry="6" fill="url(#limb)"/></g>
<g filter="url(#b1)" transform="rotate(-5 189 287.9)"><ellipse cx="189" cy="287.9" rx="5.8" ry="10.1" fill="#6a6a6a" stroke="#787878" stroke-width="0.8"/><ellipse cx="189" cy="287.9" rx="5.8" ry="10.1" fill="url(#limb)"/></g>
<circle cx="160.6" cy="271.6" r="1.39" fill="#f0f0f0" filter="url(#b0)"/>
<circle cx="166.8" cy="268.6" r="0.8" fill="#aaaaaa" filter="url(#b0)"/>
<circle cx="173.2" cy="272.5" r="1.07" fill="#e1e1e1" filter="url(#b0)"/>
<circle cx="172.3" cy="280.2" r="0.7" fill="#828282" filter="url(#b0)"/>
<circle cx="185.2" cy="280.9" r="1.23" fill="#d2d2d2" filter="url(#b0)"/>
<rect x="148.6" y="258.25" width="60.5" height="60.5" fill="#fff" filter="url(#noise)" opacity="0.055"/>
</g>
<clipPath id="tc8"><rect x="22.5" y="321.25" width="60.5" height="60.5"/></clipPath>
<g clip-path="url(#tc8)"><rect x="22.5" y="321.25" width="60.5" height="60.5" fill="#1c1c1c"/>
<ellipse cx="28" cy="362" rx="8" ry="16" transform="rotate(0 28 362)" fill="#121212" filter="url(#b4)"/>
<ellipse cx="76" cy="372" rx="10" ry="10" transform="rotate(0 76 372)" fill="#141414" filter="url(#b4)"/>
<ellipse cx="62" cy="323" rx="6" ry="3" transform="rotate(0 62 323)" fill="#3c3c3c" filter="url(#b2)"/>
<g filter="url(#b1)" transform="rotate(42 58.8 341.7)"><ellipse cx="58.8" cy="341.7" rx="10" ry="7.3" fill="#474747" stroke="#5d5d5d" stroke-width="0.85"/><ellipse cx="58.8" cy="341.7" rx="10" ry="7.3" fill="url(#limb)"/></g>
<g filter="url(#b1)" transform="rotate(25 47.5 361.5)"><ellipse cx="47.5" cy="361.5" rx="10.3" ry="9.3" fill="#444444" stroke="#5d5d5d" stroke-width="0.85"/><ellipse cx="47.5" cy="361.5" rx="10.3" ry="9.3" fill="url(#limb)"/></g>
<circle cx="50.3" cy="358.5" r="0.8" fill="#bebebe" filter="url(#b0)"/>
<rect x="22.5" y="321.25" width="60.5" height="60.5" fill="#fff" filter="url(#noise)" opacity="0.066"/>
</g>
<clipPath id="tc9"><rect x="85.5" y="321.25" width="60.5" height="60.5"/></clipPath>
<g clip-path="url(#tc9)"><rect x="85.5" y="321.25" width="60.5" height="60.5" fill="#060606"/>
<ellipse cx="122" cy="350" rx="12" ry="10" transform="rotate(0 122 350)" fill="#0f0f0f" filter="url(#b4)"/>
<path d="M122.6,335.9 C123.8,334.2 125.5,332.9 127.4,332.1 C129.6,331.2 132,330.9 134.2,331.1 C136.4,331.4 138.4,332.2 140,333.5 C141.7,335.1 142.8,337.1 143.4,339.3 C144,341.9 143.7,344.6 142.9,347 C142.3,349 141.4,350.9 140,352.3 C138.7,353.6 137,354.4 135.2,354.3 C133.5,354 132.1,352.9 131.3,351.4 C130.4,349.8 130,347.9 129.4,346.1 C129,344.6 128.7,343 127.9,341.7 C127,340.6 125.6,340.1 124.5,339.3 C123.2,338.5 122.2,337.2 122.6,335.9 Z" fill="#353535" stroke="#454545" stroke-width="0.8" stroke-linejoin="round" filter="url(#b1)"/>
<circle cx="140.6" cy="334.4" r="0.9" fill="#d7d7d7" filter="url(#b0)"/>
<circle cx="130.1" cy="337.9" r="0.6" fill="#aaaaaa" filter="url(#b0)"/>
<circle cx="119.2" cy="340.3" r="1.89" fill="#707070" filter="url(#b1)"/>
<path d="M90.8,358.6 C91.3,356.4 92.4,354.4 93.7,352.8 C95,351.4 96.7,350.6 98.5,350.4 C100.2,350.3 101.9,350.6 103.3,351.4 C104.5,352.2 105.1,353.5 105.7,354.7 C106.6,355.9 107.5,357.2 108.1,358.6 C109.2,360.1 110.5,361.6 111,363.4 C111.5,365.2 111.2,367 110.1,368.3 C108.6,369.1 106.8,368.4 105.2,368.7 C104.4,369.5 104.2,370.6 103.3,371.2 C101.8,371.7 100.1,370.6 98.5,370.2 L92.7,370.2 C91.8,368.7 91.3,367 91.7,365.4 C92,364.2 93.1,363.5 93.7,362.5 C92.5,361.4 91.1,360.2 90.8,358.6 Z" fill="#9d9d9d" stroke="#a9a9a9" stroke-width="0.8" stroke-linejoin="round" filter="url(#b1)"/>
<circle cx="101.9" cy="352.8" r="1.89" fill="#f0f0f0" filter="url(#b0)"/>
<circle cx="106.8" cy="364.4" r="2.79" fill="#f0f0f0" filter="url(#b0)"/>
<circle cx="105" cy="360.5" r="1.64" fill="#e1e1e1" filter="url(#b0)"/>
<circle cx="94" cy="359" r="1.48" fill="#bebebe" filter="url(#b0)"/>
<circle cx="95" cy="367.2" r="1.39" fill="#282828" filter="url(#b0)"/>
<circle cx="99.5" cy="361.5" r="1.31" fill="#646464" filter="url(#b0)"/>
<rect x="85.5" y="321.25" width="60.5" height="60.5" fill="#fff" filter="url(#noise)" opacity="0.055"/>
</g>
<clipPath id="tc10"><rect x="148.6" y="321.25" width="60.5" height="60.5"/></clipPath>
<g clip-path="url(#tc10)"><rect x="148.6" y="321.25" width="60.5" height="60.5" fill="#070707"/>
<ellipse cx="192" cy="360" rx="11" ry="24" transform="rotate(20 192 360)" fill="#111111" filter="url(#b4)"/>
<path d="M187.5,343.2 C186.8,341 186.8,338.6 187.1,336.4 C187.5,334 188.3,331.7 189.5,329.7 C191,327.4 193,325.6 195.3,324.3 C197.3,323.2 199.7,322.4 202,322.4 C203.9,322.4 205.8,323 206.8,324.3 C207.9,325.8 208,327.9 207.3,329.7 C206.6,331.6 205.4,333.2 204,334.5 C202.6,335.9 201,337 199.6,338.3 C198.2,339.8 197.3,341.6 196.2,343.2 C195.2,344.6 193.9,345.9 192.4,346.5 C191.2,346.9 189.9,346.8 189,346.1 C188.2,345.3 187.8,344.2 187.5,343.2 Z" fill="#3a3a3a" stroke="#464646" stroke-width="0.7" stroke-linejoin="round" filter="url(#b1)"/>
<circle cx="204.7" cy="335.4" r="1.31" fill="#e1e1e1" filter="url(#b0)"/>
<circle cx="189.5" cy="348.3" r="0.7" fill="#969696" filter="url(#b0)"/>
<circle cx="190.1" cy="352.3" r="0.7" fill="#787878" filter="url(#b0)"/>
<circle cx="187.6" cy="340.5" r="0.6" fill="#8c8c8c" filter="url(#b0)"/>
<path d="M165.3,338.8 C166.8,337.4 168.9,337.1 170.6,337.9 C172.4,338.7 173.5,340.3 173.5,342.2 C173.6,344.3 173,346.3 172.1,348 C170.9,350.4 169.3,352.6 167.8,354.7 C166.4,356.7 165,358.7 163.4,360.5 C162,362.2 160.5,364 158.6,364.9 C156.8,365.4 155,364.4 153.8,363 C152.7,362.1 151.8,361 151.8,359.6 C152.2,357.9 153.9,356.9 155.2,355.7 C156.8,353.6 158.2,351.3 159.5,349 C160.5,347.1 161.3,345.1 162.4,343.2 C163.2,341.6 164,340 165.3,338.8 Z" fill="#5e5e5e" stroke="#6a6a6a" stroke-width="0.8" stroke-linejoin="round" filter="url(#b1)"/>
<circle cx="167.8" cy="338.4" r="1.97" fill="#fafafa" filter="url(#b0)"/>
<circle cx="172.2" cy="342.5" r="1.39" fill="#ebebeb" filter="url(#b0)"/>
<circle cx="157.3" cy="350.4" r="1.89" fill="#f5f5f5" filter="url(#b0)"/>
<circle cx="154" cy="361" r="2.13" fill="#f5f5f5" filter="url(#b0)"/>
<circle cx="156.5" cy="363.2" r="1.07" fill="#d7d7d7" filter="url(#b0)"/>
<path d="M167.8,365.4 C169.2,364.2 171,363.5 172.6,363.9 C174.5,364.3 175.9,365.6 176,367.3 C176.2,369.2 175.5,371 174.5,372.6 C173.3,374.3 171.8,375.8 170.2,377 C168.7,378.3 167.1,379.7 165.3,380.3 C163.8,380.7 162.2,380.2 161.5,378.9 C161,377.6 161.4,376.2 162,375 C162.8,373.3 163.9,371.7 164.9,370.2 C165.7,368.5 166.5,366.7 167.8,365.4 Z" fill="#7c7c7c" stroke="#8a8a8a" stroke-width="0.8" stroke-linejoin="round" filter="url(#b1)"/>
<circle cx="168.7" cy="369.7" r="1.64" fill="#e1e1e1" filter="url(#b0)"/>
<circle cx="170.5" cy="366" r="1.07" fill="#c8c8c8" filter="url(#b0)"/>
<circle cx="154.7" cy="372.6" r="1.48" fill="#e1e1e1" filter="url(#b0)"/>
<rect x="148.6" y="321.25" width="60.5" height="60.5" fill="#fff" filter="url(#noise)" opacity="0.055"/>
</g>
<rect x="67.50" y="313.50" width="12.50" height="2.50" fill="#fff"/>
<text x="116.40" y="468.00" font-family='"Liberation Serif", "Times New Roman", serif' font-size="11.4" font-weight="bold" font-style="normal" text-anchor="middle" fill="#000" textLength="48.70" lengthAdjust="spacingAndGlyphs">GFP-BAF</text>
<line x1="24.30" y1="475.60" x2="206.80" y2="475.60" stroke="#000" stroke-width="1.6" stroke-linecap="butt"/>
<text x="52.30" y="488.80" font-family='"Liberation Serif", "Times New Roman", serif' font-size="12.2" font-weight="normal" font-style="italic" text-anchor="middle" fill="#000" textLength="15.50" lengthAdjust="spacingAndGlyphs">WT</text>
<text x="114.00" y="488.80" font-family='"Liberation Serif", "Times New Roman", serif' font-size="12.2" font-weight="normal" font-style="italic" text-anchor="middle" fill="#000" textLength="58.00" lengthAdjust="spacingAndGlyphs">BRCA2-/- #1</text>
<text x="176.50" y="488.80" font-family='"Liberation Serif", "Times New Roman", serif' font-size="12.2" font-weight="normal" font-style="italic" text-anchor="middle" fill="#000" textLength="58.00" lengthAdjust="spacingAndGlyphs">BRCA2-/- #2</text>
<text x="16.80" y="524.00" font-family='"Liberation Serif", "Times New Roman", serif' font-size="11.4" font-weight="normal" font-style="normal" text-anchor="middle" fill="#000" transform="rotate(-90 16.80 524.00)" textLength="32.00" lengthAdjust="spacingAndGlyphs">DMSO</text>
<text x="16.80" y="586.00" font-family='"Liberation Serif", "Times New Roman", serif' font-size="11.4" font-weight="normal" font-style="normal" text-anchor="middle" fill="#000" transform="rotate(-90 16.80 586.00)" textLength="53.00" lengthAdjust="spacingAndGlyphs">5 µM Polθ-i</text>
<clipPath id="tc11"><rect x="20.1" y="493.6" width="60.5" height="60.5"/></clipPath>
<g clip-path="url(#tc11)"><rect x="20.1" y="493.6" width="60.5" height="60.5" fill="#070707"/>
<ellipse cx="60" cy="516" rx="20" ry="22" transform="rotate(-35 60 516)" fill="#262626" filter="url(#b4)"/>
<ellipse cx="72" cy="500" rx="12" ry="10" transform="rotate(0 72 500)" fill="#222222" filter="url(#b4)"/>
<ellipse cx="30" cy="542" rx="13" ry="13" transform="rotate(0 30 542)" fill="#1c1c1c" filter="url(#b4)"/>
<ellipse cx="76" cy="545" rx="8" ry="8" transform="rotate(0 76 545)" fill="#1a1a1a" filter="url(#b4)"/>
<ellipse cx="53" cy="549" rx="9" ry="8" transform="rotate(0 53 549)" fill="#030303" filter="url(#b2)"/>
<g filter="url(#b1)" transform="rotate(-15 49.9 505.5)"><ellipse cx="49.9" cy="505.5" rx="7.4" ry="8.7" fill="#404040" stroke="#515151" stroke-width="0.8"/><ellipse cx="49.9" cy="505.5" rx="7.4" ry="8.7" fill="url(#limb)"/></g>
<g filter="url(#b1)" transform="rotate(5 68.7 532.5)"><ellipse cx="68.7" cy="532.5" rx="11.1" ry="7.4" fill="#4b4b4b" stroke="#737373" stroke-width="1.0"/><ellipse cx="68.7" cy="532.5" rx="11.1" ry="7.4" fill="url(#limb)"/></g>
<path d="M22.5,551 C21.2,547 22,542.5 24.2,538.8 C26,535.8 28.5,533.2 31,533.3 C33.3,533.6 33.6,537 34,540 C34.6,544 34.8,548.5 32.8,551.3 C30.8,553.6 27.4,554 25,553.3 C23.6,552.8 22.9,552 22.5,551 Z" fill="#3a3a3a" stroke="#4d4d4d" stroke-width="0.8" stroke-linejoin="round" filter="url(#b1)"/>
<circle cx="50.5" cy="507.5" r="0.9" fill="#6e6e6e" filter="url(#b0)"/>
<circle cx="65.5" cy="534" r="0.6" fill="#969696" filter="url(#b0)"/>
<circle cx="70" cy="536" r="0.6" fill="#969696" filter="url(#b0)"/>
<rect x="20.1" y="493.6" width="60.5" height="60.5" fill="#fff" filter="url(#noise)" opacity="0.066"/>
</g>
<clipPath id="tc12"><rect x="83.25" y="493.6" width="60.5" height="60.5"/></clipPath>
<g clip-path="url(#tc12)"><rect x="83.25" y="493.6" width="60.5" height="60.5" fill="#070707"/>
<g filter="url(#b1)" transform="rotate(0 93.6 518.5)"><ellipse cx="93.6" cy="518.5" rx="6.8" ry="7.4" fill="#2a2a2a" stroke="#383838" stroke-width="0.6"/><ellipse cx="93.6" cy="518.5" rx="6.8" ry="7.4" fill="url(#limb)"/></g>
<g filter="url(#b1)" transform="rotate(-20 97.9 533.5)"><ellipse cx="97.9" cy="533.5" rx="6.5" ry="6.2" fill="#232323" stroke="#313131" stroke-width="0.6"/><ellipse cx="97.9" cy="533.5" rx="6.5" ry="6.2" fill="url(#limb)"/></g>
<path d="M119.6,525.3 C120,523.8 121.2,522.7 122.5,521.9 C124.3,520.8 126.3,520.1 128.3,520 C130.5,520 132.7,520.7 134.6,521.9 C136.5,523.1 138,524.8 139,526.7 C139.8,528.2 140.3,530 139.9,531.6 C139.4,533.1 138,534.1 136.5,534 C135,533.7 133.7,532.5 132.2,532.1 C130.6,532.1 129,533.2 127.4,533.5 C125.6,533.5 123.9,532.6 122.5,531.6 C121.3,530.7 120.5,529.5 120.1,528.2 C119.7,527.2 119.5,526.3 119.6,525.3 Z" fill="#535353" stroke="#5f5f5f" stroke-width="0.7" stroke-linejoin="round" filter="url(#b1)"/>
<circle cx="121.2" cy="524.4" r="1.15" fill="#e1e1e1" filter="url(#b0)"/>
<circle cx="124.5" cy="525.4" r="0.82" fill="#bebebe" filter="url(#b0)"/>
<circle cx="129.3" cy="521.5" r="0.98" fill="#c8c8c8" filter="url(#b0)"/>
<circle cx="128.3" cy="528.2" r="0.8" fill="#aaaaaa" filter="url(#b0)"/>
<circle cx="133.6" cy="530.6" r="0.8" fill="#aaaaaa" filter="url(#b0)"/>
<circle cx="126.5" cy="523" r="0.8" fill="#aaaaaa" filter="url(#b0)"/>
<path d="M89.3,541.8 L91.3,542.6" stroke="#aaa" stroke-width="0.9" filter="url(#b0)"/>
<rect x="83.25" y="493.6" width="60.5" height="60.5" fill="#fff" filter="url(#noise)" opacity="0.066"/>
</g>
<clipPath id="tc13"><rect x="146.3" y="493.6" width="60.5" height="60.5"/></clipPath>
<g clip-path="url(#tc13)"><rect x="146.3" y="493.6" width="60.5" height="60.5" fill="#0a0a0a"/>
<g filter="url(#b2)"><path d="M146,497 C160,495 185,494 194,496 C198,502 197,512 192,517 C182,521 170,517 160,513 C154,510 149,508 146,507 Z" fill="#323232"/><path d="M146,522 C152,518 160,519 168,521 C180,524 192,528 200,533 C205,537 207,545 207,554 L158,554 C152,548 148,540 146,534 Z" fill="#3b3b3b"/><path d="M146,538 C150,542 154,548 156,554 L146,554 Z" fill="#1c1c1c"/><path d="M196,520 C201,519 205,520 207,521 L207,530 C203,527 199,524 196,520 Z" fill="#1a1a1a"/></g>
<g filter="url(#b1)" transform="rotate(0 177.3 504.1)"><ellipse cx="177.3" cy="504.1" rx="7.1" ry="8.1" fill="#313131" stroke="#404040" stroke-width="0.7"/><ellipse cx="177.3" cy="504.1" rx="7.1" ry="8.1" fill="url(#limb)"/></g>
<circle cx="178.6" cy="498.5" r="0.7" fill="#969696" filter="url(#b0)"/>
<circle cx="175.3" cy="501.5" r="0.7" fill="#969696" filter="url(#b0)"/>
<circle cx="174" cy="511" r="0.6" fill="#828282" filter="url(#b0)"/>
<circle cx="180" cy="511.5" r="0.6" fill="#828282" filter="url(#b0)"/>
<path d="M153.2,525.3 C153.8,523.6 155.1,522.5 156.6,521.9 C157.8,521.3 159.1,521 160.4,521 C162.3,521.2 164.2,521.9 165.8,522.9 C167.1,523.7 168.2,524.7 169.1,525.8 C170.1,526.9 171,528.2 171.1,529.6 C171,530.8 170.1,531.6 169.1,532.1 C168.1,532.5 166.9,532.3 165.8,532.5 C164.7,533 163.7,533.7 162.9,534.5 C162.3,535.4 162.4,536.6 161.9,537.4 C160.6,538 158.8,538 157.5,537.4 C156.5,536.7 156.1,535.6 156.1,534.5 C156,533.2 156.8,531.8 156.6,530.6 C156,529.8 154.9,529.4 154.2,528.7 C153.4,527.8 152.9,526.5 153.2,525.3 Z" fill="#767676" stroke="#828282" stroke-width="0.8" stroke-linejoin="round" filter="url(#b1)"/>
<circle cx="159.5" cy="521.5" r="1.15" fill="#fafafa" filter="url(#b0)"/>
<circle cx="161.6" cy="536.9" r="0.9" fill="#d7d7d7" filter="url(#b0)"/>
<circle cx="160" cy="527" r="0.7" fill="#464646" filter="url(#b0)"/>
<circle cx="162.5" cy="531" r="0.7" fill="#464646" filter="url(#b0)"/>
<circle cx="165.5" cy="526" r="0.7" fill="#4b4b4b" filter="url(#b0)"/>
<g filter="url(#b1)" transform="rotate(-15 192.8 543.2)"><ellipse cx="192.8" cy="543.2" rx="6" ry="10.1" fill="#444444" stroke="#525252" stroke-width="0.8"/><ellipse cx="192.8" cy="543.2" rx="6" ry="10.1" fill="url(#limb)"/></g>
<circle cx="198.6" cy="539.4" r="0.8" fill="#d7d7d7" filter="url(#b0)"/>
<circle cx="193.7" cy="541.2" r="0.8" fill="#c8c8c8" filter="url(#b0)"/>
<circle cx="192.3" cy="545.6" r="0.8" fill="#bebebe" filter="url(#b0)"/>
<circle cx="198.4" cy="548.8" r="0.7" fill="#b4b4b4" filter="url(#b0)"/>
<circle cx="196" cy="543.5" r="0.6" fill="#aaaaaa" filter="url(#b0)"/>
<rect x="146.3" y="493.6" width="60.5" height="60.5" fill="#fff" filter="url(#noise)" opacity="0.055"/>
</g>
<clipPath id="tc14"><rect x="20.1" y="556.1" width="60.5" height="60.5"/></clipPath>
<g clip-path="url(#tc14)"><rect x="20.1" y="556.1" width="60.5" height="60.5" fill="#0e0e0e"/>
<ellipse cx="55" cy="590" rx="30" ry="20" transform="rotate(0 55 590)" fill="#1a1a1a" filter="url(#b4)"/>
<ellipse cx="30" cy="604" rx="12" ry="10" transform="rotate(0 30 604)" fill="#161616" filter="url(#b4)"/>
<g filter="url(#b1)"><path d="M20.3,574.5 C22,572.2 25,572.5 27.5,574.5 C31,577.5 34.5,582 36,586.5 C37.2,590 36.5,593.5 33.5,594 C30,594.6 26.5,592 24.5,588.5 C22.5,584.5 20.5,579 20.3,574.5 Z" fill="#363636" stroke="#5a5a5a" stroke-width="0.8"/></g>
<g filter="url(#b1)" transform="rotate(22 68.7 588.8)"><ellipse cx="68.7" cy="588.8" rx="11.6" ry="6.2" fill="#4f4f4f" stroke="#5d5d5d" stroke-width="0.9"/><ellipse cx="68.7" cy="588.8" rx="11.6" ry="6.2" fill="url(#limb)"/></g>
<g filter="url(#b1)" transform="rotate(-5 52.3 603)"><ellipse cx="52.3" cy="603" rx="9.5" ry="6.8" fill="#404040" stroke="#515151" stroke-width="0.8"/><ellipse cx="52.3" cy="603" rx="9.5" ry="6.8" fill="url(#limb)"/></g>
<circle cx="29.5" cy="586" r="0.7" fill="#787878" filter="url(#b0)"/>
<circle cx="69.5" cy="590.5" r="0.7" fill="#828282" filter="url(#b0)"/>
<circle cx="50.5" cy="603.5" r="0.7" fill="#828282" filter="url(#b0)"/>
<rect x="20.1" y="556.1" width="60.5" height="60.5" fill="#fff" filter="url(#noise)" opacity="0.088"/>
</g>
<clipPath id="tc15"><rect x="83.25" y="556.1" width="60.5" height="60.5"/></clipPath>
<g clip-path="url(#tc15)"><rect x="83.25" y="556.1" width="60.5" height="60.5" fill="#050505"/>
<ellipse cx="120" cy="590" rx="18" ry="9" transform="rotate(0 120 590)" fill="#0e0e0e" filter="url(#b4)"/>
<ellipse cx="132" cy="572" rx="12" ry="14" transform="rotate(0 132 572)" fill="#0d0d0d" filter="url(#b4)"/>
<ellipse cx="100" cy="575" rx="14" ry="10" transform="rotate(0 100 575)" fill="#0a0a0a" filter="url(#b4)"/>
<path d="M84.4,589.3 C85,587.7 86.3,586.6 87.8,585.9 C89.3,585 90.9,584.3 92.6,584 C93.9,583.6 95.2,583.7 96.5,584 C97.8,584.1 99.1,584.4 100.3,584.9 C101.9,585.3 103.5,585.9 104.7,586.9 C105.5,587.7 105.5,588.9 104.7,589.7 C103.4,590.8 101.9,591.6 100.3,592.2 C98.4,592.9 96.5,593.3 94.5,593.6 C92.6,593.9 90.7,594.2 88.8,594.1 C87.5,593.8 86.2,593.2 85.4,592.2 C84.7,591.4 84.2,590.3 84.4,589.3 Z" fill="#535353" stroke="#5f5f5f" stroke-width="0.7" stroke-linejoin="round" filter="url(#b1)"/>
<circle cx="104" cy="587.8" r="1.15" fill="#fafafa" filter="url(#b0)"/>
<path d="M130.7,563.7 C131.6,562.7 132.8,562.1 134.1,562.2 C135.8,562.5 137.5,563.4 138.5,564.7 C139.3,565.8 139.7,567.2 139.4,568.5 C138.8,570 137.2,570.9 136.1,571.9 C135.3,573.2 135.2,574.7 135.1,576.2 C135,577.7 135,579.2 134.6,580.6 C133.3,581.4 131.7,581.6 130.3,581.1 C128.8,580.3 127.6,579.1 126.9,577.7 C126.3,576.3 126.2,574.8 126.4,573.3 C126.7,571.6 127.4,570 128.3,568.5 C129,566.9 129.6,565.1 130.7,563.7 Z" fill="#464646" stroke="#525252" stroke-width="0.7" stroke-linejoin="round" filter="url(#b1)"/>
<circle cx="128.1" cy="579.6" r="1.23" fill="#fafafa" filter="url(#b0)"/>
<circle cx="135.4" cy="580.9" r="1.39" fill="#ffffff" filter="url(#b0)"/>
<circle cx="131.5" cy="569" r="0.6" fill="#969696" filter="url(#b0)"/>
<path d="M103.7,601.8 C104.4,600.5 105.7,599.5 107.1,598.9 C109,598.4 111.1,598.6 112.9,599.4 C114.7,600.1 116.3,601.3 117.2,602.8 C118,604.1 118.1,605.7 117.7,607.1 C117.3,608.8 116.2,610.3 114.8,611.5 C113.6,612.4 112,613 110.5,612.9 C109,612.4 107.9,611.2 107.1,610 C106.1,608.8 105.2,607.6 104.7,606.2 C104.1,604.8 103.4,603.3 103.7,601.8 Z" fill="#464646" stroke="#525252" stroke-width="0.7" stroke-linejoin="round" filter="url(#b1)"/>
<circle cx="104.8" cy="603" r="0.8" fill="#a0a0a0" filter="url(#b0)"/>
<rect x="83.25" y="556.1" width="60.5" height="60.5" fill="#fff" filter="url(#noise)" opacity="0.099"/>
</g>
<clipPath id="tc16"><rect x="146.3" y="556.1" width="60.5" height="60.5"/></clipPath>
<g clip-path="url(#tc16)"><rect x="146.3" y="556.1" width="60.5" height="60.5" fill="#070707"/>
<ellipse cx="185" cy="592" rx="22" ry="14" transform="rotate(0 185 592)" fill="#0e0e0e" filter="url(#b4)"/>
<g filter="url(#b1)" transform="rotate(10 166.7 566.6)"><ellipse cx="166.7" cy="566.6" rx="6.9" ry="9.6" fill="#222222" stroke="#303030" stroke-width="0.6"/><ellipse cx="166.7" cy="566.6" rx="6.9" ry="9.6" fill="url(#limb)"/></g>
<path d="M178.3,575.8 C178.8,574.1 179.9,572.6 181.2,571.4 C182.8,570.2 184.8,569.5 186.5,568.5 C187.8,567.5 189,566.3 189.4,564.7 C189.7,563.1 188.5,561.4 188.9,559.8 C189.5,558.6 190.9,557.9 192.3,557.9 C193.6,557.9 195.1,558.6 195.7,559.8 C196.2,561.4 195,563.1 195.2,564.7 C195.6,566.2 197,567.1 197.6,568.5 C198.2,570.2 198,572.2 197.1,573.8 C196.2,575.3 194.8,576.4 193.3,577.2 C191.8,578 190,578.1 188.4,578.6 C186.9,579.3 185.6,580.5 184.1,581.1 C182.7,581.3 181.2,580.7 180.2,579.6 C179.2,578.6 178.2,577.2 178.3,575.8 Z" fill="#7c7c7c" stroke="#8a8a8a" stroke-width="0.9" stroke-linejoin="round" filter="url(#b1)"/>
<circle cx="179.1" cy="575.8" r="1.23" fill="#f5f5f5" filter="url(#b0)"/>
<circle cx="193.7" cy="559.4" r="1.56" fill="#ebebeb" filter="url(#b0)"/>
<circle cx="189.2" cy="560" r="0.8" fill="#bebebe" filter="url(#b0)"/>
<path d="M196,559.5 C198,558 200,557.3 202.5,557" stroke="#5a5a5a" stroke-width="2" fill="none" filter="url(#b0)"/>
<g filter="url(#b1)" transform="rotate(22 156.6 601.3)"><ellipse cx="156.6" cy="601.3" rx="8.1" ry="12.5" fill="#393939" stroke="#474747" stroke-width="0.7"/><ellipse cx="156.6" cy="601.3" rx="8.1" ry="12.5" fill="url(#limb)"/></g>
<path d="M173.3,602.5 C173.5,600 174.9,597.6 177,596.4 C179.2,595.2 181.8,595.3 184,596 C186.2,596.8 187.9,598.5 188.3,600.7 C188.6,602.5 187.5,604.1 187.2,605.8 C186.8,607.9 186,610 184.3,611.2 C182.4,612.4 179.9,612.3 177.9,611.3 C175.8,610.2 174.2,608.2 173.6,606 C173.3,604.9 173.2,603.7 173.3,602.5 Z" fill="#5a5a5a" stroke="#707070" stroke-width="0.9" stroke-linejoin="round" filter="url(#b1)"/>
<circle cx="175.9" cy="602.2" r="1.15" fill="#ebebeb" filter="url(#b0)"/>
<circle cx="179" cy="609" r="0.9" fill="#c8c8c8" filter="url(#b0)"/>
<circle cx="181.5" cy="610" r="0.8" fill="#c8c8c8" filter="url(#b0)"/>
<circle cx="183.5" cy="609.5" r="0.8" fill="#bebebe" filter="url(#b0)"/>
<rect x="146.3" y="556.1" width="60.5" height="60.5" fill="#fff" filter="url(#noise)" opacity="0.066"/>
</g>
<rect x="65.00" y="547.90" width="12.80" height="2.60" fill="#fff"/>
</svg>
</body></html>
